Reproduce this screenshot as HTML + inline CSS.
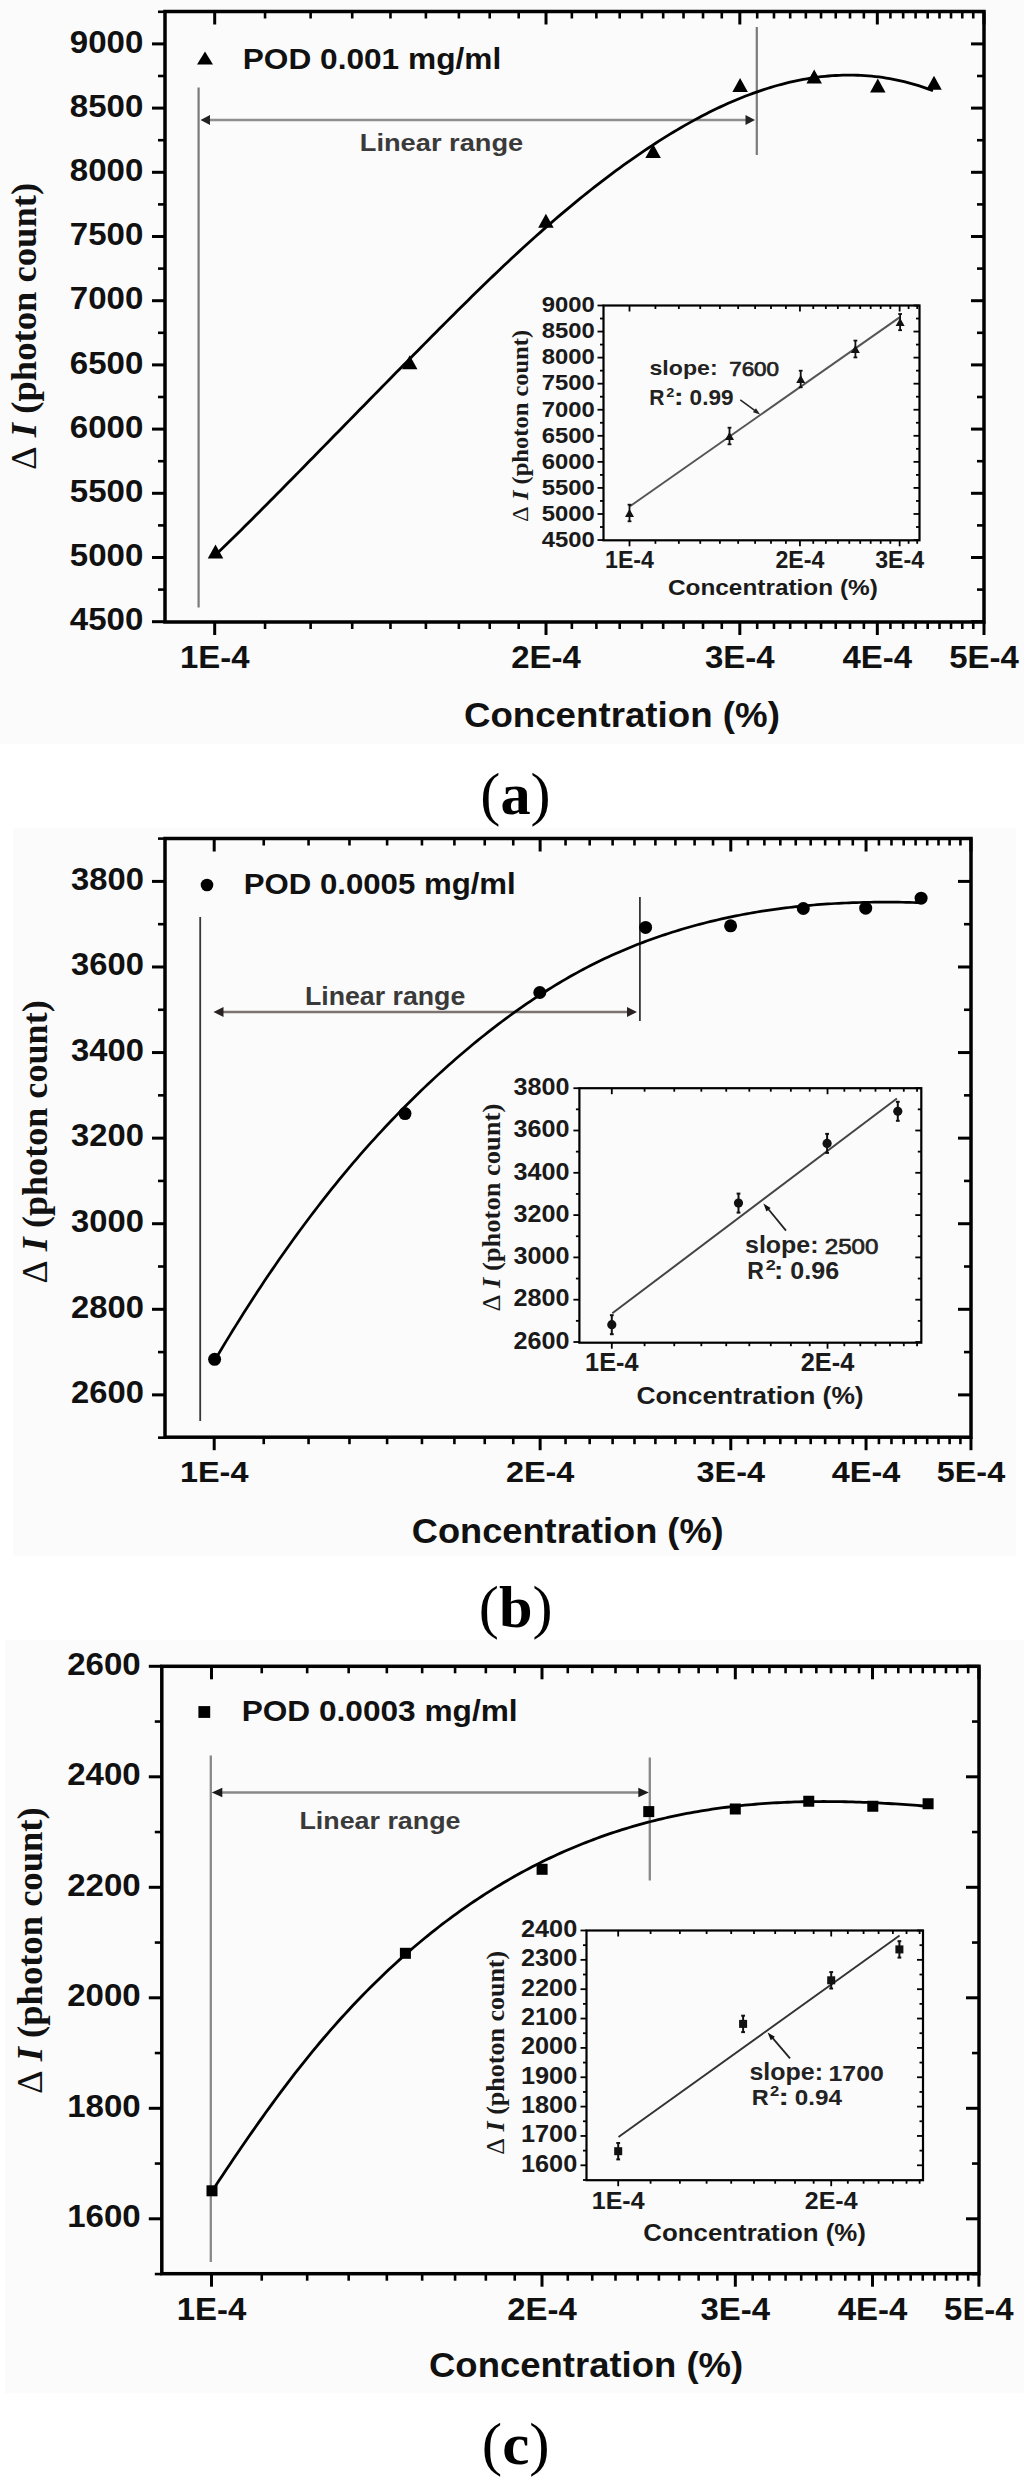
<!DOCTYPE html><html><head><meta charset="utf-8"><style>
html,body{margin:0;padding:0;background:#fff;width:1024px;height:2487px;overflow:hidden}
text{font-kerning:none}
</style></head><body>
<div><svg width="1024" height="2487" viewBox="0 0 1024 2487" style="display:block">
<rect x="0" y="0" width="1024" height="2487" fill="#ffffff"/>
<rect x="0" y="0" width="1024" height="744" fill="#fbfbfb"/>
<line x1="214.70" y1="622.00" x2="214.70" y2="635.00" stroke="#000" stroke-width="3" stroke-linecap="butt"/>
<line x1="214.70" y1="11.50" x2="214.70" y2="24.50" stroke="#000" stroke-width="3" stroke-linecap="butt"/>
<line x1="546.01" y1="622.00" x2="546.01" y2="635.00" stroke="#000" stroke-width="3" stroke-linecap="butt"/>
<line x1="546.01" y1="11.50" x2="546.01" y2="24.50" stroke="#000" stroke-width="3" stroke-linecap="butt"/>
<line x1="739.82" y1="622.00" x2="739.82" y2="635.00" stroke="#000" stroke-width="3" stroke-linecap="butt"/>
<line x1="739.82" y1="11.50" x2="739.82" y2="24.50" stroke="#000" stroke-width="3" stroke-linecap="butt"/>
<line x1="877.33" y1="622.00" x2="877.33" y2="635.00" stroke="#000" stroke-width="3" stroke-linecap="butt"/>
<line x1="877.33" y1="11.50" x2="877.33" y2="24.50" stroke="#000" stroke-width="3" stroke-linecap="butt"/>
<line x1="983.99" y1="622.00" x2="983.99" y2="635.00" stroke="#000" stroke-width="3" stroke-linecap="butt"/>
<line x1="983.99" y1="11.50" x2="983.99" y2="24.50" stroke="#000" stroke-width="3" stroke-linecap="butt"/>
<line x1="265.06" y1="622.00" x2="265.06" y2="629.00" stroke="#000" stroke-width="2.6" stroke-linecap="butt"/>
<line x1="265.06" y1="11.50" x2="265.06" y2="18.50" stroke="#000" stroke-width="2.6" stroke-linecap="butt"/>
<line x1="310.62" y1="622.00" x2="310.62" y2="629.00" stroke="#000" stroke-width="2.6" stroke-linecap="butt"/>
<line x1="310.62" y1="11.50" x2="310.62" y2="18.50" stroke="#000" stroke-width="2.6" stroke-linecap="butt"/>
<line x1="352.21" y1="622.00" x2="352.21" y2="629.00" stroke="#000" stroke-width="2.6" stroke-linecap="butt"/>
<line x1="352.21" y1="11.50" x2="352.21" y2="18.50" stroke="#000" stroke-width="2.6" stroke-linecap="butt"/>
<line x1="390.47" y1="622.00" x2="390.47" y2="629.00" stroke="#000" stroke-width="2.6" stroke-linecap="butt"/>
<line x1="390.47" y1="11.50" x2="390.47" y2="18.50" stroke="#000" stroke-width="2.6" stroke-linecap="butt"/>
<line x1="425.89" y1="622.00" x2="425.89" y2="629.00" stroke="#000" stroke-width="2.6" stroke-linecap="butt"/>
<line x1="425.89" y1="11.50" x2="425.89" y2="18.50" stroke="#000" stroke-width="2.6" stroke-linecap="butt"/>
<line x1="458.87" y1="622.00" x2="458.87" y2="629.00" stroke="#000" stroke-width="2.6" stroke-linecap="butt"/>
<line x1="458.87" y1="11.50" x2="458.87" y2="18.50" stroke="#000" stroke-width="2.6" stroke-linecap="butt"/>
<line x1="489.72" y1="622.00" x2="489.72" y2="629.00" stroke="#000" stroke-width="2.6" stroke-linecap="butt"/>
<line x1="489.72" y1="11.50" x2="489.72" y2="18.50" stroke="#000" stroke-width="2.6" stroke-linecap="butt"/>
<line x1="518.69" y1="622.00" x2="518.69" y2="629.00" stroke="#000" stroke-width="2.6" stroke-linecap="butt"/>
<line x1="518.69" y1="11.50" x2="518.69" y2="18.50" stroke="#000" stroke-width="2.6" stroke-linecap="butt"/>
<line x1="571.86" y1="622.00" x2="571.86" y2="629.00" stroke="#000" stroke-width="2.6" stroke-linecap="butt"/>
<line x1="571.86" y1="11.50" x2="571.86" y2="18.50" stroke="#000" stroke-width="2.6" stroke-linecap="butt"/>
<line x1="596.37" y1="622.00" x2="596.37" y2="629.00" stroke="#000" stroke-width="2.6" stroke-linecap="butt"/>
<line x1="596.37" y1="11.50" x2="596.37" y2="18.50" stroke="#000" stroke-width="2.6" stroke-linecap="butt"/>
<line x1="619.70" y1="622.00" x2="619.70" y2="629.00" stroke="#000" stroke-width="2.6" stroke-linecap="butt"/>
<line x1="619.70" y1="11.50" x2="619.70" y2="18.50" stroke="#000" stroke-width="2.6" stroke-linecap="butt"/>
<line x1="641.93" y1="622.00" x2="641.93" y2="629.00" stroke="#000" stroke-width="2.6" stroke-linecap="butt"/>
<line x1="641.93" y1="11.50" x2="641.93" y2="18.50" stroke="#000" stroke-width="2.6" stroke-linecap="butt"/>
<line x1="663.18" y1="622.00" x2="663.18" y2="629.00" stroke="#000" stroke-width="2.6" stroke-linecap="butt"/>
<line x1="663.18" y1="11.50" x2="663.18" y2="18.50" stroke="#000" stroke-width="2.6" stroke-linecap="butt"/>
<line x1="683.52" y1="622.00" x2="683.52" y2="629.00" stroke="#000" stroke-width="2.6" stroke-linecap="butt"/>
<line x1="683.52" y1="11.50" x2="683.52" y2="18.50" stroke="#000" stroke-width="2.6" stroke-linecap="butt"/>
<line x1="703.03" y1="622.00" x2="703.03" y2="629.00" stroke="#000" stroke-width="2.6" stroke-linecap="butt"/>
<line x1="703.03" y1="11.50" x2="703.03" y2="18.50" stroke="#000" stroke-width="2.6" stroke-linecap="butt"/>
<line x1="721.78" y1="622.00" x2="721.78" y2="629.00" stroke="#000" stroke-width="2.6" stroke-linecap="butt"/>
<line x1="721.78" y1="11.50" x2="721.78" y2="18.50" stroke="#000" stroke-width="2.6" stroke-linecap="butt"/>
<line x1="757.20" y1="622.00" x2="757.20" y2="629.00" stroke="#000" stroke-width="2.6" stroke-linecap="butt"/>
<line x1="757.20" y1="11.50" x2="757.20" y2="18.50" stroke="#000" stroke-width="2.6" stroke-linecap="butt"/>
<line x1="773.98" y1="622.00" x2="773.98" y2="629.00" stroke="#000" stroke-width="2.6" stroke-linecap="butt"/>
<line x1="773.98" y1="11.50" x2="773.98" y2="18.50" stroke="#000" stroke-width="2.6" stroke-linecap="butt"/>
<line x1="790.18" y1="622.00" x2="790.18" y2="629.00" stroke="#000" stroke-width="2.6" stroke-linecap="butt"/>
<line x1="790.18" y1="11.50" x2="790.18" y2="18.50" stroke="#000" stroke-width="2.6" stroke-linecap="butt"/>
<line x1="805.85" y1="622.00" x2="805.85" y2="629.00" stroke="#000" stroke-width="2.6" stroke-linecap="butt"/>
<line x1="805.85" y1="11.50" x2="805.85" y2="18.50" stroke="#000" stroke-width="2.6" stroke-linecap="butt"/>
<line x1="821.03" y1="622.00" x2="821.03" y2="629.00" stroke="#000" stroke-width="2.6" stroke-linecap="butt"/>
<line x1="821.03" y1="11.50" x2="821.03" y2="18.50" stroke="#000" stroke-width="2.6" stroke-linecap="butt"/>
<line x1="835.74" y1="622.00" x2="835.74" y2="629.00" stroke="#000" stroke-width="2.6" stroke-linecap="butt"/>
<line x1="835.74" y1="11.50" x2="835.74" y2="18.50" stroke="#000" stroke-width="2.6" stroke-linecap="butt"/>
<line x1="850.01" y1="622.00" x2="850.01" y2="629.00" stroke="#000" stroke-width="2.6" stroke-linecap="butt"/>
<line x1="850.01" y1="11.50" x2="850.01" y2="18.50" stroke="#000" stroke-width="2.6" stroke-linecap="butt"/>
<line x1="863.86" y1="622.00" x2="863.86" y2="629.00" stroke="#000" stroke-width="2.6" stroke-linecap="butt"/>
<line x1="863.86" y1="11.50" x2="863.86" y2="18.50" stroke="#000" stroke-width="2.6" stroke-linecap="butt"/>
<line x1="890.42" y1="622.00" x2="890.42" y2="629.00" stroke="#000" stroke-width="2.6" stroke-linecap="butt"/>
<line x1="890.42" y1="11.50" x2="890.42" y2="18.50" stroke="#000" stroke-width="2.6" stroke-linecap="butt"/>
<line x1="903.17" y1="622.00" x2="903.17" y2="629.00" stroke="#000" stroke-width="2.6" stroke-linecap="butt"/>
<line x1="903.17" y1="11.50" x2="903.17" y2="18.50" stroke="#000" stroke-width="2.6" stroke-linecap="butt"/>
<line x1="915.59" y1="622.00" x2="915.59" y2="629.00" stroke="#000" stroke-width="2.6" stroke-linecap="butt"/>
<line x1="915.59" y1="11.50" x2="915.59" y2="18.50" stroke="#000" stroke-width="2.6" stroke-linecap="butt"/>
<line x1="927.69" y1="622.00" x2="927.69" y2="629.00" stroke="#000" stroke-width="2.6" stroke-linecap="butt"/>
<line x1="927.69" y1="11.50" x2="927.69" y2="18.50" stroke="#000" stroke-width="2.6" stroke-linecap="butt"/>
<line x1="939.49" y1="622.00" x2="939.49" y2="629.00" stroke="#000" stroke-width="2.6" stroke-linecap="butt"/>
<line x1="939.49" y1="11.50" x2="939.49" y2="18.50" stroke="#000" stroke-width="2.6" stroke-linecap="butt"/>
<line x1="951.01" y1="622.00" x2="951.01" y2="629.00" stroke="#000" stroke-width="2.6" stroke-linecap="butt"/>
<line x1="951.01" y1="11.50" x2="951.01" y2="18.50" stroke="#000" stroke-width="2.6" stroke-linecap="butt"/>
<line x1="962.26" y1="622.00" x2="962.26" y2="629.00" stroke="#000" stroke-width="2.6" stroke-linecap="butt"/>
<line x1="962.26" y1="11.50" x2="962.26" y2="18.50" stroke="#000" stroke-width="2.6" stroke-linecap="butt"/>
<line x1="973.24" y1="622.00" x2="973.24" y2="629.00" stroke="#000" stroke-width="2.6" stroke-linecap="butt"/>
<line x1="973.24" y1="11.50" x2="973.24" y2="18.50" stroke="#000" stroke-width="2.6" stroke-linecap="butt"/>
<line x1="152.00" y1="621.70" x2="165.00" y2="621.70" stroke="#000" stroke-width="3" stroke-linecap="butt"/>
<line x1="971.00" y1="621.70" x2="984.00" y2="621.70" stroke="#000" stroke-width="3" stroke-linecap="butt"/>
<line x1="158.00" y1="589.60" x2="165.00" y2="589.60" stroke="#000" stroke-width="2.6" stroke-linecap="butt"/>
<line x1="977.00" y1="589.60" x2="984.00" y2="589.60" stroke="#000" stroke-width="2.6" stroke-linecap="butt"/>
<line x1="152.00" y1="557.50" x2="165.00" y2="557.50" stroke="#000" stroke-width="3" stroke-linecap="butt"/>
<line x1="971.00" y1="557.50" x2="984.00" y2="557.50" stroke="#000" stroke-width="3" stroke-linecap="butt"/>
<line x1="158.00" y1="525.40" x2="165.00" y2="525.40" stroke="#000" stroke-width="2.6" stroke-linecap="butt"/>
<line x1="977.00" y1="525.40" x2="984.00" y2="525.40" stroke="#000" stroke-width="2.6" stroke-linecap="butt"/>
<line x1="152.00" y1="493.30" x2="165.00" y2="493.30" stroke="#000" stroke-width="3" stroke-linecap="butt"/>
<line x1="971.00" y1="493.30" x2="984.00" y2="493.30" stroke="#000" stroke-width="3" stroke-linecap="butt"/>
<line x1="158.00" y1="461.20" x2="165.00" y2="461.20" stroke="#000" stroke-width="2.6" stroke-linecap="butt"/>
<line x1="977.00" y1="461.20" x2="984.00" y2="461.20" stroke="#000" stroke-width="2.6" stroke-linecap="butt"/>
<line x1="152.00" y1="429.10" x2="165.00" y2="429.10" stroke="#000" stroke-width="3" stroke-linecap="butt"/>
<line x1="971.00" y1="429.10" x2="984.00" y2="429.10" stroke="#000" stroke-width="3" stroke-linecap="butt"/>
<line x1="158.00" y1="397.00" x2="165.00" y2="397.00" stroke="#000" stroke-width="2.6" stroke-linecap="butt"/>
<line x1="977.00" y1="397.00" x2="984.00" y2="397.00" stroke="#000" stroke-width="2.6" stroke-linecap="butt"/>
<line x1="152.00" y1="364.90" x2="165.00" y2="364.90" stroke="#000" stroke-width="3" stroke-linecap="butt"/>
<line x1="971.00" y1="364.90" x2="984.00" y2="364.90" stroke="#000" stroke-width="3" stroke-linecap="butt"/>
<line x1="158.00" y1="332.80" x2="165.00" y2="332.80" stroke="#000" stroke-width="2.6" stroke-linecap="butt"/>
<line x1="977.00" y1="332.80" x2="984.00" y2="332.80" stroke="#000" stroke-width="2.6" stroke-linecap="butt"/>
<line x1="152.00" y1="300.70" x2="165.00" y2="300.70" stroke="#000" stroke-width="3" stroke-linecap="butt"/>
<line x1="971.00" y1="300.70" x2="984.00" y2="300.70" stroke="#000" stroke-width="3" stroke-linecap="butt"/>
<line x1="158.00" y1="268.60" x2="165.00" y2="268.60" stroke="#000" stroke-width="2.6" stroke-linecap="butt"/>
<line x1="977.00" y1="268.60" x2="984.00" y2="268.60" stroke="#000" stroke-width="2.6" stroke-linecap="butt"/>
<line x1="152.00" y1="236.50" x2="165.00" y2="236.50" stroke="#000" stroke-width="3" stroke-linecap="butt"/>
<line x1="971.00" y1="236.50" x2="984.00" y2="236.50" stroke="#000" stroke-width="3" stroke-linecap="butt"/>
<line x1="158.00" y1="204.40" x2="165.00" y2="204.40" stroke="#000" stroke-width="2.6" stroke-linecap="butt"/>
<line x1="977.00" y1="204.40" x2="984.00" y2="204.40" stroke="#000" stroke-width="2.6" stroke-linecap="butt"/>
<line x1="152.00" y1="172.30" x2="165.00" y2="172.30" stroke="#000" stroke-width="3" stroke-linecap="butt"/>
<line x1="971.00" y1="172.30" x2="984.00" y2="172.30" stroke="#000" stroke-width="3" stroke-linecap="butt"/>
<line x1="158.00" y1="140.20" x2="165.00" y2="140.20" stroke="#000" stroke-width="2.6" stroke-linecap="butt"/>
<line x1="977.00" y1="140.20" x2="984.00" y2="140.20" stroke="#000" stroke-width="2.6" stroke-linecap="butt"/>
<line x1="152.00" y1="108.10" x2="165.00" y2="108.10" stroke="#000" stroke-width="3" stroke-linecap="butt"/>
<line x1="971.00" y1="108.10" x2="984.00" y2="108.10" stroke="#000" stroke-width="3" stroke-linecap="butt"/>
<line x1="158.00" y1="76.00" x2="165.00" y2="76.00" stroke="#000" stroke-width="2.6" stroke-linecap="butt"/>
<line x1="977.00" y1="76.00" x2="984.00" y2="76.00" stroke="#000" stroke-width="2.6" stroke-linecap="butt"/>
<line x1="152.00" y1="43.90" x2="165.00" y2="43.90" stroke="#000" stroke-width="3" stroke-linecap="butt"/>
<line x1="971.00" y1="43.90" x2="984.00" y2="43.90" stroke="#000" stroke-width="3" stroke-linecap="butt"/>
<line x1="158.00" y1="11.80" x2="165.00" y2="11.80" stroke="#000" stroke-width="2.6" stroke-linecap="butt"/>
<line x1="977.00" y1="11.80" x2="984.00" y2="11.80" stroke="#000" stroke-width="2.6" stroke-linecap="butt"/>
<rect x="165.00" y="11.50" width="819.00" height="610.50" fill="none" stroke="#000" stroke-width="3.5"/>
<text transform="translate(69.84,630.43) scale(1.0800,1)" font-size="30.60" fill="#111"><tspan font-family="Liberation Sans" font-weight="bold" font-style="normal">4500</tspan></text>
<text transform="translate(69.84,566.23) scale(1.0800,1)" font-size="30.60" fill="#111"><tspan font-family="Liberation Sans" font-weight="bold" font-style="normal">5000</tspan></text>
<text transform="translate(69.84,502.03) scale(1.0800,1)" font-size="30.60" fill="#111"><tspan font-family="Liberation Sans" font-weight="bold" font-style="normal">5500</tspan></text>
<text transform="translate(69.84,437.83) scale(1.0800,1)" font-size="30.60" fill="#111"><tspan font-family="Liberation Sans" font-weight="bold" font-style="normal">6000</tspan></text>
<text transform="translate(69.84,373.63) scale(1.0800,1)" font-size="30.60" fill="#111"><tspan font-family="Liberation Sans" font-weight="bold" font-style="normal">6500</tspan></text>
<text transform="translate(69.84,309.43) scale(1.0800,1)" font-size="30.60" fill="#111"><tspan font-family="Liberation Sans" font-weight="bold" font-style="normal">7000</tspan></text>
<text transform="translate(69.84,245.23) scale(1.0800,1)" font-size="30.60" fill="#111"><tspan font-family="Liberation Sans" font-weight="bold" font-style="normal">7500</tspan></text>
<text transform="translate(69.84,181.03) scale(1.0800,1)" font-size="30.60" fill="#111"><tspan font-family="Liberation Sans" font-weight="bold" font-style="normal">8000</tspan></text>
<text transform="translate(69.84,116.83) scale(1.0800,1)" font-size="30.60" fill="#111"><tspan font-family="Liberation Sans" font-weight="bold" font-style="normal">8500</tspan></text>
<text transform="translate(69.84,52.63) scale(1.0800,1)" font-size="30.60" fill="#111"><tspan font-family="Liberation Sans" font-weight="bold" font-style="normal">9000</tspan></text>
<text transform="translate(179.91,667.80) scale(1.0800,1)" font-size="30.50" fill="#111" font-family="Liberation Sans" font-weight="bold">1E-4</text>
<text transform="translate(511.22,667.80) scale(1.0800,1)" font-size="30.50" fill="#111" font-family="Liberation Sans" font-weight="bold">2E-4</text>
<text transform="translate(705.03,667.80) scale(1.0800,1)" font-size="30.50" fill="#111" font-family="Liberation Sans" font-weight="bold">3E-4</text>
<text transform="translate(842.54,667.80) scale(1.0800,1)" font-size="30.50" fill="#111" font-family="Liberation Sans" font-weight="bold">4E-4</text>
<text transform="translate(949.20,667.80) scale(1.0800,1)" font-size="30.50" fill="#111" font-family="Liberation Sans" font-weight="bold">5E-4</text>
<text transform="translate(463.89,727.20) scale(1.0638,1)" font-size="34.50" fill="#111"><tspan font-family="Liberation Sans" font-weight="bold" font-style="normal">Concentration (%)</tspan></text>
<text transform="translate(27.30,326.50) rotate(-90) translate(-143.39,8.56) scale(1.0285,1)" font-size="35.60" fill="#111"><tspan font-family="Liberation Serif" font-weight="normal" font-style="normal">Δ </tspan><tspan font-family="Liberation Serif" font-weight="bold" font-style="italic">I</tspan><tspan font-family="Liberation Serif" font-weight="bold" font-style="normal"> (photon count)</tspan></text>
<path d="M197.00,64.50 L205.00,51.50 L213.00,64.50 Z" fill="#000"/>
<text transform="translate(242.68,69.20) scale(1.0951,1)" font-size="28.90" fill="#111"><tspan font-family="Liberation Sans" font-weight="bold" font-style="normal">POD 0.001 mg/ml</tspan></text>
<line x1="198.60" y1="87.50" x2="198.60" y2="607.50" stroke="#7a7a7a" stroke-width="2.2" stroke-linecap="butt"/>
<line x1="756.80" y1="27.00" x2="756.80" y2="155.00" stroke="#7a7a7a" stroke-width="2.2" stroke-linecap="butt"/>
<line x1="205.00" y1="119.90" x2="750.00" y2="119.90" stroke="#8e8e8e" stroke-width="2.5" stroke-linecap="butt"/>
<path d="M200.50,119.90 L210.00,114.90 L210.00,124.90 Z" fill="#222"/>
<path d="M755.00,119.90 L745.50,124.90 L745.50,114.90 Z" fill="#222"/>
<text transform="translate(359.78,150.60) scale(1.1498,1)" font-size="23.70" fill="#3a3a3a"><tspan font-family="Liberation Sans" font-weight="bold" font-style="normal">Linear range</tspan></text>
<path d="M216.00,554.54 L219.60,551.06 L223.21,547.57 L226.81,544.07 L230.41,540.55 L234.02,537.01 L237.62,533.47 L241.22,529.91 L244.82,526.34 L248.43,522.76 L252.03,519.17 L255.63,515.57 L259.24,511.97 L262.84,508.35 L266.44,504.73 L270.05,501.10 L273.65,497.46 L277.25,493.82 L280.85,490.17 L284.46,486.51 L288.06,482.85 L291.66,479.19 L295.27,475.53 L298.87,471.86 L302.47,468.19 L306.08,464.52 L309.68,460.85 L313.28,457.17 L316.88,453.50 L320.49,449.82 L324.09,446.14 L327.69,442.46 L331.30,438.78 L334.90,435.10 L338.50,431.42 L342.11,427.74 L345.71,424.06 L349.31,420.38 L352.91,416.70 L356.52,413.02 L360.12,409.34 L363.72,405.66 L367.33,401.98 L370.93,398.31 L374.53,394.63 L378.14,390.96 L381.74,387.28 L385.34,383.61 L388.94,379.94 L392.55,376.27 L396.15,372.60 L399.75,368.94 L403.36,365.28 L406.96,361.62 L410.56,357.97 L414.17,354.31 L417.77,350.67 L421.37,347.02 L424.97,343.38 L428.58,339.74 L432.18,336.11 L435.78,332.48 L439.39,328.86 L442.99,325.24 L446.59,321.63 L450.20,318.03 L453.80,314.43 L457.40,310.85 L461.01,307.27 L464.61,303.70 L468.21,300.15 L471.81,296.60 L475.42,293.07 L479.02,289.55 L482.62,286.04 L486.23,282.55 L489.83,279.08 L493.43,275.62 L497.04,272.17 L500.64,268.75 L504.24,265.34 L507.84,261.95 L511.45,258.58 L515.05,255.23 L518.65,251.90 L522.26,248.59 L525.86,245.30 L529.46,242.03 L533.07,238.78 L536.67,235.56 L540.27,232.35 L543.87,229.17 L547.48,226.01 L551.08,222.88 L554.68,219.77 L558.29,216.68 L561.89,213.62 L565.49,210.58 L569.10,207.57 L572.70,204.58 L576.30,201.62 L579.90,198.68 L583.51,195.77 L587.11,192.88 L590.71,190.02 L594.32,187.19 L597.92,184.38 L601.52,181.60 L605.13,178.84 L608.73,176.11 L612.33,173.41 L615.93,170.74 L619.54,168.09 L623.14,165.47 L626.74,162.89 L630.35,160.32 L633.95,157.79 L637.55,155.29 L641.16,152.82 L644.76,150.38 L648.36,147.97 L651.96,145.59 L655.57,143.24 L659.17,140.93 L662.77,138.65 L666.38,136.40 L669.98,134.18 L673.58,132.00 L677.19,129.85 L680.79,127.74 L684.39,125.66 L687.99,123.61 L691.60,121.61 L695.20,119.63 L698.80,117.70 L702.41,115.80 L706.01,113.94 L709.61,112.12 L713.22,110.33 L716.82,108.59 L720.42,106.88 L724.03,105.22 L727.63,103.59 L731.23,102.00 L734.83,100.46 L738.44,98.96 L742.04,97.49 L745.64,96.07 L749.25,94.70 L752.85,93.36 L756.45,92.07 L760.06,90.82 L763.66,89.62 L767.26,88.46 L770.86,87.35 L774.47,86.28 L778.07,85.26 L781.67,84.28 L785.28,83.35 L788.88,82.47 L792.48,81.64 L796.09,80.85 L799.69,80.11 L803.29,79.42 L806.89,78.78 L810.50,78.19 L814.10,77.65 L817.70,77.16 L821.31,76.72 L824.91,76.34 L828.51,76.00 L832.12,75.72 L835.72,75.49 L839.32,75.31 L842.92,75.19 L846.53,75.12 L850.13,75.10 L853.73,75.14 L857.34,75.23 L860.94,75.38 L864.54,75.59 L868.15,75.85 L871.75,76.17 L875.35,76.54 L878.95,76.98 L882.56,77.47 L886.16,78.02 L889.76,78.63 L893.37,79.30 L896.97,80.02 L900.57,80.81 L904.18,81.66 L907.78,82.57 L911.38,83.54 L914.98,84.57 L918.59,85.67 L922.19,86.83 L925.79,88.05 L929.40,89.33 L933.00,90.68" fill="none" stroke="#000" stroke-width="2.8" stroke-linejoin="round" stroke-linecap="butt"/>
<path d="M207.75,558.40 L215.50,544.40 L223.25,558.40 Z" fill="#000"/>
<path d="M401.95,369.30 L409.70,355.30 L417.45,369.30 Z" fill="#000"/>
<path d="M538.15,227.80 L545.90,213.80 L553.65,227.80 Z" fill="#000"/>
<path d="M645.35,158.10 L653.10,144.10 L660.85,158.10 Z" fill="#000"/>
<path d="M732.35,92.00 L740.10,78.00 L747.85,92.00 Z" fill="#000"/>
<path d="M806.45,83.60 L814.20,69.60 L821.95,83.60 Z" fill="#000"/>
<path d="M870.05,92.40 L877.80,78.40 L885.55,92.40 Z" fill="#000"/>
<path d="M926.25,89.80 L934.00,75.80 L941.75,89.80 Z" fill="#000"/>
<line x1="629.50" y1="540.30" x2="629.50" y2="546.30" stroke="#000" stroke-width="1.8" stroke-linecap="butt"/>
<line x1="629.50" y1="305.50" x2="629.50" y2="311.50" stroke="#000" stroke-width="1.8" stroke-linecap="butt"/>
<line x1="655.41" y1="540.30" x2="655.41" y2="543.80" stroke="#000" stroke-width="1.8" stroke-linecap="butt"/>
<line x1="655.41" y1="305.50" x2="655.41" y2="309.00" stroke="#000" stroke-width="1.8" stroke-linecap="butt"/>
<line x1="678.84" y1="540.30" x2="678.84" y2="543.80" stroke="#000" stroke-width="1.8" stroke-linecap="butt"/>
<line x1="678.84" y1="305.50" x2="678.84" y2="309.00" stroke="#000" stroke-width="1.8" stroke-linecap="butt"/>
<line x1="700.24" y1="540.30" x2="700.24" y2="543.80" stroke="#000" stroke-width="1.8" stroke-linecap="butt"/>
<line x1="700.24" y1="305.50" x2="700.24" y2="309.00" stroke="#000" stroke-width="1.8" stroke-linecap="butt"/>
<line x1="719.92" y1="540.30" x2="719.92" y2="543.80" stroke="#000" stroke-width="1.8" stroke-linecap="butt"/>
<line x1="719.92" y1="305.50" x2="719.92" y2="309.00" stroke="#000" stroke-width="1.8" stroke-linecap="butt"/>
<line x1="738.15" y1="540.30" x2="738.15" y2="543.80" stroke="#000" stroke-width="1.8" stroke-linecap="butt"/>
<line x1="738.15" y1="305.50" x2="738.15" y2="309.00" stroke="#000" stroke-width="1.8" stroke-linecap="butt"/>
<line x1="755.11" y1="540.30" x2="755.11" y2="543.80" stroke="#000" stroke-width="1.8" stroke-linecap="butt"/>
<line x1="755.11" y1="305.50" x2="755.11" y2="309.00" stroke="#000" stroke-width="1.8" stroke-linecap="butt"/>
<line x1="770.98" y1="540.30" x2="770.98" y2="543.80" stroke="#000" stroke-width="1.8" stroke-linecap="butt"/>
<line x1="770.98" y1="305.50" x2="770.98" y2="309.00" stroke="#000" stroke-width="1.8" stroke-linecap="butt"/>
<line x1="785.89" y1="540.30" x2="785.89" y2="543.80" stroke="#000" stroke-width="1.8" stroke-linecap="butt"/>
<line x1="785.89" y1="305.50" x2="785.89" y2="309.00" stroke="#000" stroke-width="1.8" stroke-linecap="butt"/>
<line x1="799.94" y1="540.30" x2="799.94" y2="546.30" stroke="#000" stroke-width="1.8" stroke-linecap="butt"/>
<line x1="799.94" y1="305.50" x2="799.94" y2="311.50" stroke="#000" stroke-width="1.8" stroke-linecap="butt"/>
<line x1="813.24" y1="540.30" x2="813.24" y2="543.80" stroke="#000" stroke-width="1.8" stroke-linecap="butt"/>
<line x1="813.24" y1="305.50" x2="813.24" y2="309.00" stroke="#000" stroke-width="1.8" stroke-linecap="butt"/>
<line x1="825.85" y1="540.30" x2="825.85" y2="543.80" stroke="#000" stroke-width="1.8" stroke-linecap="butt"/>
<line x1="825.85" y1="305.50" x2="825.85" y2="309.00" stroke="#000" stroke-width="1.8" stroke-linecap="butt"/>
<line x1="837.85" y1="540.30" x2="837.85" y2="543.80" stroke="#000" stroke-width="1.8" stroke-linecap="butt"/>
<line x1="837.85" y1="305.50" x2="837.85" y2="309.00" stroke="#000" stroke-width="1.8" stroke-linecap="butt"/>
<line x1="849.29" y1="540.30" x2="849.29" y2="543.80" stroke="#000" stroke-width="1.8" stroke-linecap="butt"/>
<line x1="849.29" y1="305.50" x2="849.29" y2="309.00" stroke="#000" stroke-width="1.8" stroke-linecap="butt"/>
<line x1="860.22" y1="540.30" x2="860.22" y2="543.80" stroke="#000" stroke-width="1.8" stroke-linecap="butt"/>
<line x1="860.22" y1="305.50" x2="860.22" y2="309.00" stroke="#000" stroke-width="1.8" stroke-linecap="butt"/>
<line x1="870.68" y1="540.30" x2="870.68" y2="543.80" stroke="#000" stroke-width="1.8" stroke-linecap="butt"/>
<line x1="870.68" y1="305.50" x2="870.68" y2="309.00" stroke="#000" stroke-width="1.8" stroke-linecap="butt"/>
<line x1="880.72" y1="540.30" x2="880.72" y2="543.80" stroke="#000" stroke-width="1.8" stroke-linecap="butt"/>
<line x1="880.72" y1="305.50" x2="880.72" y2="309.00" stroke="#000" stroke-width="1.8" stroke-linecap="butt"/>
<line x1="890.37" y1="540.30" x2="890.37" y2="543.80" stroke="#000" stroke-width="1.8" stroke-linecap="butt"/>
<line x1="890.37" y1="305.50" x2="890.37" y2="309.00" stroke="#000" stroke-width="1.8" stroke-linecap="butt"/>
<line x1="899.65" y1="540.30" x2="899.65" y2="546.30" stroke="#000" stroke-width="1.8" stroke-linecap="butt"/>
<line x1="899.65" y1="305.50" x2="899.65" y2="311.50" stroke="#000" stroke-width="1.8" stroke-linecap="butt"/>
<line x1="908.59" y1="540.30" x2="908.59" y2="543.80" stroke="#000" stroke-width="1.8" stroke-linecap="butt"/>
<line x1="908.59" y1="305.50" x2="908.59" y2="309.00" stroke="#000" stroke-width="1.8" stroke-linecap="butt"/>
<line x1="917.22" y1="540.30" x2="917.22" y2="543.80" stroke="#000" stroke-width="1.8" stroke-linecap="butt"/>
<line x1="917.22" y1="305.50" x2="917.22" y2="309.00" stroke="#000" stroke-width="1.8" stroke-linecap="butt"/>
<line x1="597.50" y1="540.04" x2="603.50" y2="540.04" stroke="#000" stroke-width="1.8" stroke-linecap="butt"/>
<line x1="913.50" y1="540.04" x2="919.50" y2="540.04" stroke="#000" stroke-width="1.8" stroke-linecap="butt"/>
<line x1="600.00" y1="527.01" x2="603.50" y2="527.01" stroke="#000" stroke-width="1.8" stroke-linecap="butt"/>
<line x1="916.00" y1="527.01" x2="919.50" y2="527.01" stroke="#000" stroke-width="1.8" stroke-linecap="butt"/>
<line x1="597.50" y1="513.98" x2="603.50" y2="513.98" stroke="#000" stroke-width="1.8" stroke-linecap="butt"/>
<line x1="913.50" y1="513.98" x2="919.50" y2="513.98" stroke="#000" stroke-width="1.8" stroke-linecap="butt"/>
<line x1="600.00" y1="500.95" x2="603.50" y2="500.95" stroke="#000" stroke-width="1.8" stroke-linecap="butt"/>
<line x1="916.00" y1="500.95" x2="919.50" y2="500.95" stroke="#000" stroke-width="1.8" stroke-linecap="butt"/>
<line x1="597.50" y1="487.92" x2="603.50" y2="487.92" stroke="#000" stroke-width="1.8" stroke-linecap="butt"/>
<line x1="913.50" y1="487.92" x2="919.50" y2="487.92" stroke="#000" stroke-width="1.8" stroke-linecap="butt"/>
<line x1="600.00" y1="474.89" x2="603.50" y2="474.89" stroke="#000" stroke-width="1.8" stroke-linecap="butt"/>
<line x1="916.00" y1="474.89" x2="919.50" y2="474.89" stroke="#000" stroke-width="1.8" stroke-linecap="butt"/>
<line x1="597.50" y1="461.86" x2="603.50" y2="461.86" stroke="#000" stroke-width="1.8" stroke-linecap="butt"/>
<line x1="913.50" y1="461.86" x2="919.50" y2="461.86" stroke="#000" stroke-width="1.8" stroke-linecap="butt"/>
<line x1="600.00" y1="448.83" x2="603.50" y2="448.83" stroke="#000" stroke-width="1.8" stroke-linecap="butt"/>
<line x1="916.00" y1="448.83" x2="919.50" y2="448.83" stroke="#000" stroke-width="1.8" stroke-linecap="butt"/>
<line x1="597.50" y1="435.80" x2="603.50" y2="435.80" stroke="#000" stroke-width="1.8" stroke-linecap="butt"/>
<line x1="913.50" y1="435.80" x2="919.50" y2="435.80" stroke="#000" stroke-width="1.8" stroke-linecap="butt"/>
<line x1="600.00" y1="422.77" x2="603.50" y2="422.77" stroke="#000" stroke-width="1.8" stroke-linecap="butt"/>
<line x1="916.00" y1="422.77" x2="919.50" y2="422.77" stroke="#000" stroke-width="1.8" stroke-linecap="butt"/>
<line x1="597.50" y1="409.74" x2="603.50" y2="409.74" stroke="#000" stroke-width="1.8" stroke-linecap="butt"/>
<line x1="913.50" y1="409.74" x2="919.50" y2="409.74" stroke="#000" stroke-width="1.8" stroke-linecap="butt"/>
<line x1="600.00" y1="396.71" x2="603.50" y2="396.71" stroke="#000" stroke-width="1.8" stroke-linecap="butt"/>
<line x1="916.00" y1="396.71" x2="919.50" y2="396.71" stroke="#000" stroke-width="1.8" stroke-linecap="butt"/>
<line x1="597.50" y1="383.68" x2="603.50" y2="383.68" stroke="#000" stroke-width="1.8" stroke-linecap="butt"/>
<line x1="913.50" y1="383.68" x2="919.50" y2="383.68" stroke="#000" stroke-width="1.8" stroke-linecap="butt"/>
<line x1="600.00" y1="370.65" x2="603.50" y2="370.65" stroke="#000" stroke-width="1.8" stroke-linecap="butt"/>
<line x1="916.00" y1="370.65" x2="919.50" y2="370.65" stroke="#000" stroke-width="1.8" stroke-linecap="butt"/>
<line x1="597.50" y1="357.62" x2="603.50" y2="357.62" stroke="#000" stroke-width="1.8" stroke-linecap="butt"/>
<line x1="913.50" y1="357.62" x2="919.50" y2="357.62" stroke="#000" stroke-width="1.8" stroke-linecap="butt"/>
<line x1="600.00" y1="344.59" x2="603.50" y2="344.59" stroke="#000" stroke-width="1.8" stroke-linecap="butt"/>
<line x1="916.00" y1="344.59" x2="919.50" y2="344.59" stroke="#000" stroke-width="1.8" stroke-linecap="butt"/>
<line x1="597.50" y1="331.56" x2="603.50" y2="331.56" stroke="#000" stroke-width="1.8" stroke-linecap="butt"/>
<line x1="913.50" y1="331.56" x2="919.50" y2="331.56" stroke="#000" stroke-width="1.8" stroke-linecap="butt"/>
<line x1="600.00" y1="318.53" x2="603.50" y2="318.53" stroke="#000" stroke-width="1.8" stroke-linecap="butt"/>
<line x1="916.00" y1="318.53" x2="919.50" y2="318.53" stroke="#000" stroke-width="1.8" stroke-linecap="butt"/>
<line x1="597.50" y1="305.50" x2="603.50" y2="305.50" stroke="#000" stroke-width="1.8" stroke-linecap="butt"/>
<line x1="913.50" y1="305.50" x2="919.50" y2="305.50" stroke="#000" stroke-width="1.8" stroke-linecap="butt"/>
<rect x="603.50" y="305.50" width="316.00" height="234.80" fill="none" stroke="#000" stroke-width="2.2"/>
<text transform="translate(541.70,546.81) scale(1.0700,1)" font-size="22.30" fill="#1a1a1a"><tspan font-family="Liberation Sans" font-weight="bold" font-style="normal">4500</tspan></text>
<text transform="translate(541.70,520.75) scale(1.0700,1)" font-size="22.30" fill="#1a1a1a"><tspan font-family="Liberation Sans" font-weight="bold" font-style="normal">5000</tspan></text>
<text transform="translate(541.70,494.69) scale(1.0700,1)" font-size="22.30" fill="#1a1a1a"><tspan font-family="Liberation Sans" font-weight="bold" font-style="normal">5500</tspan></text>
<text transform="translate(541.70,468.63) scale(1.0700,1)" font-size="22.30" fill="#1a1a1a"><tspan font-family="Liberation Sans" font-weight="bold" font-style="normal">6000</tspan></text>
<text transform="translate(541.70,442.57) scale(1.0700,1)" font-size="22.30" fill="#1a1a1a"><tspan font-family="Liberation Sans" font-weight="bold" font-style="normal">6500</tspan></text>
<text transform="translate(541.70,416.51) scale(1.0700,1)" font-size="22.30" fill="#1a1a1a"><tspan font-family="Liberation Sans" font-weight="bold" font-style="normal">7000</tspan></text>
<text transform="translate(541.70,390.45) scale(1.0700,1)" font-size="22.30" fill="#1a1a1a"><tspan font-family="Liberation Sans" font-weight="bold" font-style="normal">7500</tspan></text>
<text transform="translate(541.70,364.39) scale(1.0700,1)" font-size="22.30" fill="#1a1a1a"><tspan font-family="Liberation Sans" font-weight="bold" font-style="normal">8000</tspan></text>
<text transform="translate(541.70,338.33) scale(1.0700,1)" font-size="22.30" fill="#1a1a1a"><tspan font-family="Liberation Sans" font-weight="bold" font-style="normal">8500</tspan></text>
<text transform="translate(541.70,312.27) scale(1.0700,1)" font-size="22.30" fill="#1a1a1a"><tspan font-family="Liberation Sans" font-weight="bold" font-style="normal">9000</tspan></text>
<text transform="translate(605.02,568.20) scale(0.9500,1)" font-size="24.40" fill="#1a1a1a" font-family="Liberation Sans" font-weight="bold">1E-4</text>
<text transform="translate(775.46,568.20) scale(0.9500,1)" font-size="24.40" fill="#1a1a1a" font-family="Liberation Sans" font-weight="bold">2E-4</text>
<text transform="translate(875.16,568.20) scale(0.9500,1)" font-size="24.40" fill="#1a1a1a" font-family="Liberation Sans" font-weight="bold">3E-4</text>
<text transform="translate(667.90,595.40) scale(1.0792,1)" font-size="22.60" fill="#1a1a1a"><tspan font-family="Liberation Sans" font-weight="bold" font-style="normal">Concentration (%)</tspan></text>
<text transform="translate(521.80,426.00) rotate(-90) translate(-95.98,5.70) scale(1.0341,1)" font-size="23.70" fill="#1a1a1a"><tspan font-family="Liberation Serif" font-weight="normal" font-style="normal">Δ </tspan><tspan font-family="Liberation Serif" font-weight="bold" font-style="italic">I</tspan><tspan font-family="Liberation Serif" font-weight="bold" font-style="normal"> (photon count)</tspan></text>
<line x1="630.00" y1="506.20" x2="899.60" y2="317.40" stroke="#555" stroke-width="2" stroke-linecap="butt"/>
<line x1="629.50" y1="504.70" x2="629.50" y2="521.30" stroke="#111" stroke-width="1.8" stroke-linecap="butt"/>
<line x1="627.60" y1="504.70" x2="631.40" y2="504.70" stroke="#111" stroke-width="1.8" stroke-linecap="butt"/>
<line x1="627.60" y1="521.30" x2="631.40" y2="521.30" stroke="#111" stroke-width="1.8" stroke-linecap="butt"/>
<path d="M625.00,517.00 L629.50,509.00 L634.00,517.00 Z" fill="#111"/>
<line x1="729.50" y1="427.70" x2="729.50" y2="444.30" stroke="#111" stroke-width="1.8" stroke-linecap="butt"/>
<line x1="727.60" y1="427.70" x2="731.40" y2="427.70" stroke="#111" stroke-width="1.8" stroke-linecap="butt"/>
<line x1="727.60" y1="444.30" x2="731.40" y2="444.30" stroke="#111" stroke-width="1.8" stroke-linecap="butt"/>
<path d="M725.00,440.00 L729.50,432.00 L734.00,440.00 Z" fill="#111"/>
<line x1="800.70" y1="370.70" x2="800.70" y2="387.30" stroke="#111" stroke-width="1.8" stroke-linecap="butt"/>
<line x1="798.80" y1="370.70" x2="802.60" y2="370.70" stroke="#111" stroke-width="1.8" stroke-linecap="butt"/>
<line x1="798.80" y1="387.30" x2="802.60" y2="387.30" stroke="#111" stroke-width="1.8" stroke-linecap="butt"/>
<path d="M796.20,383.00 L800.70,375.00 L805.20,383.00 Z" fill="#111"/>
<line x1="855.40" y1="340.60" x2="855.40" y2="357.40" stroke="#111" stroke-width="1.8" stroke-linecap="butt"/>
<line x1="853.50" y1="340.60" x2="857.30" y2="340.60" stroke="#111" stroke-width="1.8" stroke-linecap="butt"/>
<line x1="853.50" y1="357.40" x2="857.30" y2="357.40" stroke="#111" stroke-width="1.8" stroke-linecap="butt"/>
<path d="M850.90,353.00 L855.40,345.00 L859.90,353.00 Z" fill="#111"/>
<line x1="900.10" y1="314.00" x2="900.10" y2="330.20" stroke="#111" stroke-width="1.8" stroke-linecap="butt"/>
<line x1="898.20" y1="314.00" x2="902.00" y2="314.00" stroke="#111" stroke-width="1.8" stroke-linecap="butt"/>
<line x1="898.20" y1="330.20" x2="902.00" y2="330.20" stroke="#111" stroke-width="1.8" stroke-linecap="butt"/>
<path d="M895.60,326.10 L900.10,318.10 L904.60,326.10 Z" fill="#111"/>
<text transform="translate(649.49,374.90) scale(1.1569,1)" font-size="20.00" fill="#222"><tspan font-family="Liberation Sans" font-weight="bold" font-style="normal">slope:</tspan></text>
<text stroke="#222" stroke-width="0.7" transform="translate(729.15,376.20) scale(1.1451,1)" font-size="19.60" fill="#222"><tspan font-family="Liberation Sans" font-weight="normal" font-style="normal">7600</tspan></text>
<text transform="translate(649.19,405.30) scale(0.9493,1)" font-size="22.24" fill="#222"><tspan font-family="Liberation Sans" font-weight="bold" font-style="normal">R</tspan></text>
<text transform="translate(666.30,396.70) scale(1.1407,1)" font-size="12.75" fill="#222"><tspan font-family="Liberation Sans" font-weight="bold" font-style="normal">2</tspan></text>
<text transform="translate(673.63,405.30) scale(1.2779,1)" font-size="23.37" fill="#222"><tspan font-family="Liberation Sans" font-weight="bold" font-style="normal">:</tspan></text>
<text transform="translate(689.61,405.48) scale(1.0179,1)" font-size="22.17" fill="#222"><tspan font-family="Liberation Sans" font-weight="bold" font-style="normal">0.99</tspan></text>
<line x1="740.30" y1="399.80" x2="755.00" y2="410.60" stroke="#222" stroke-width="1.5" stroke-linecap="butt"/>
<path d="M760.10,414.40 L752.98,412.26 L755.95,408.23 Z" fill="#222"/>
<rect x="13" y="828" width="1003" height="728" fill="#fbfbfb"/>
<line x1="214.20" y1="1437.20" x2="214.20" y2="1450.20" stroke="#000" stroke-width="3" stroke-linecap="butt"/>
<line x1="214.20" y1="838.50" x2="214.20" y2="851.50" stroke="#000" stroke-width="3" stroke-linecap="butt"/>
<line x1="540.13" y1="1437.20" x2="540.13" y2="1450.20" stroke="#000" stroke-width="3" stroke-linecap="butt"/>
<line x1="540.13" y1="838.50" x2="540.13" y2="851.50" stroke="#000" stroke-width="3" stroke-linecap="butt"/>
<line x1="730.78" y1="1437.20" x2="730.78" y2="1450.20" stroke="#000" stroke-width="3" stroke-linecap="butt"/>
<line x1="730.78" y1="838.50" x2="730.78" y2="851.50" stroke="#000" stroke-width="3" stroke-linecap="butt"/>
<line x1="866.05" y1="1437.20" x2="866.05" y2="1450.20" stroke="#000" stroke-width="3" stroke-linecap="butt"/>
<line x1="866.05" y1="838.50" x2="866.05" y2="851.50" stroke="#000" stroke-width="3" stroke-linecap="butt"/>
<line x1="970.97" y1="1437.20" x2="970.97" y2="1450.20" stroke="#000" stroke-width="3" stroke-linecap="butt"/>
<line x1="970.97" y1="838.50" x2="970.97" y2="851.50" stroke="#000" stroke-width="3" stroke-linecap="butt"/>
<line x1="263.74" y1="1437.20" x2="263.74" y2="1444.20" stroke="#000" stroke-width="2.6" stroke-linecap="butt"/>
<line x1="263.74" y1="838.50" x2="263.74" y2="845.50" stroke="#000" stroke-width="2.6" stroke-linecap="butt"/>
<line x1="308.56" y1="1437.20" x2="308.56" y2="1444.20" stroke="#000" stroke-width="2.6" stroke-linecap="butt"/>
<line x1="308.56" y1="838.50" x2="308.56" y2="845.50" stroke="#000" stroke-width="2.6" stroke-linecap="butt"/>
<line x1="349.47" y1="1437.20" x2="349.47" y2="1444.20" stroke="#000" stroke-width="2.6" stroke-linecap="butt"/>
<line x1="349.47" y1="838.50" x2="349.47" y2="845.50" stroke="#000" stroke-width="2.6" stroke-linecap="butt"/>
<line x1="387.11" y1="1437.20" x2="387.11" y2="1444.20" stroke="#000" stroke-width="2.6" stroke-linecap="butt"/>
<line x1="387.11" y1="838.50" x2="387.11" y2="845.50" stroke="#000" stroke-width="2.6" stroke-linecap="butt"/>
<line x1="421.95" y1="1437.20" x2="421.95" y2="1444.20" stroke="#000" stroke-width="2.6" stroke-linecap="butt"/>
<line x1="421.95" y1="838.50" x2="421.95" y2="845.50" stroke="#000" stroke-width="2.6" stroke-linecap="butt"/>
<line x1="454.40" y1="1437.20" x2="454.40" y2="1444.20" stroke="#000" stroke-width="2.6" stroke-linecap="butt"/>
<line x1="454.40" y1="838.50" x2="454.40" y2="845.50" stroke="#000" stroke-width="2.6" stroke-linecap="butt"/>
<line x1="484.74" y1="1437.20" x2="484.74" y2="1444.20" stroke="#000" stroke-width="2.6" stroke-linecap="butt"/>
<line x1="484.74" y1="838.50" x2="484.74" y2="845.50" stroke="#000" stroke-width="2.6" stroke-linecap="butt"/>
<line x1="513.25" y1="1437.20" x2="513.25" y2="1444.20" stroke="#000" stroke-width="2.6" stroke-linecap="butt"/>
<line x1="513.25" y1="838.50" x2="513.25" y2="845.50" stroke="#000" stroke-width="2.6" stroke-linecap="butt"/>
<line x1="565.55" y1="1437.20" x2="565.55" y2="1444.20" stroke="#000" stroke-width="2.6" stroke-linecap="butt"/>
<line x1="565.55" y1="838.50" x2="565.55" y2="845.50" stroke="#000" stroke-width="2.6" stroke-linecap="butt"/>
<line x1="589.67" y1="1437.20" x2="589.67" y2="1444.20" stroke="#000" stroke-width="2.6" stroke-linecap="butt"/>
<line x1="589.67" y1="838.50" x2="589.67" y2="845.50" stroke="#000" stroke-width="2.6" stroke-linecap="butt"/>
<line x1="612.61" y1="1437.20" x2="612.61" y2="1444.20" stroke="#000" stroke-width="2.6" stroke-linecap="butt"/>
<line x1="612.61" y1="838.50" x2="612.61" y2="845.50" stroke="#000" stroke-width="2.6" stroke-linecap="butt"/>
<line x1="634.48" y1="1437.20" x2="634.48" y2="1444.20" stroke="#000" stroke-width="2.6" stroke-linecap="butt"/>
<line x1="634.48" y1="838.50" x2="634.48" y2="845.50" stroke="#000" stroke-width="2.6" stroke-linecap="butt"/>
<line x1="655.38" y1="1437.20" x2="655.38" y2="1444.20" stroke="#000" stroke-width="2.6" stroke-linecap="butt"/>
<line x1="655.38" y1="838.50" x2="655.38" y2="845.50" stroke="#000" stroke-width="2.6" stroke-linecap="butt"/>
<line x1="675.40" y1="1437.20" x2="675.40" y2="1444.20" stroke="#000" stroke-width="2.6" stroke-linecap="butt"/>
<line x1="675.40" y1="838.50" x2="675.40" y2="845.50" stroke="#000" stroke-width="2.6" stroke-linecap="butt"/>
<line x1="694.59" y1="1437.20" x2="694.59" y2="1444.20" stroke="#000" stroke-width="2.6" stroke-linecap="butt"/>
<line x1="694.59" y1="838.50" x2="694.59" y2="845.50" stroke="#000" stroke-width="2.6" stroke-linecap="butt"/>
<line x1="713.03" y1="1437.20" x2="713.03" y2="1444.20" stroke="#000" stroke-width="2.6" stroke-linecap="butt"/>
<line x1="713.03" y1="838.50" x2="713.03" y2="845.50" stroke="#000" stroke-width="2.6" stroke-linecap="butt"/>
<line x1="747.88" y1="1437.20" x2="747.88" y2="1444.20" stroke="#000" stroke-width="2.6" stroke-linecap="butt"/>
<line x1="747.88" y1="838.50" x2="747.88" y2="845.50" stroke="#000" stroke-width="2.6" stroke-linecap="butt"/>
<line x1="764.38" y1="1437.20" x2="764.38" y2="1444.20" stroke="#000" stroke-width="2.6" stroke-linecap="butt"/>
<line x1="764.38" y1="838.50" x2="764.38" y2="845.50" stroke="#000" stroke-width="2.6" stroke-linecap="butt"/>
<line x1="780.32" y1="1437.20" x2="780.32" y2="1444.20" stroke="#000" stroke-width="2.6" stroke-linecap="butt"/>
<line x1="780.32" y1="838.50" x2="780.32" y2="845.50" stroke="#000" stroke-width="2.6" stroke-linecap="butt"/>
<line x1="795.74" y1="1437.20" x2="795.74" y2="1444.20" stroke="#000" stroke-width="2.6" stroke-linecap="butt"/>
<line x1="795.74" y1="838.50" x2="795.74" y2="845.50" stroke="#000" stroke-width="2.6" stroke-linecap="butt"/>
<line x1="810.67" y1="1437.20" x2="810.67" y2="1444.20" stroke="#000" stroke-width="2.6" stroke-linecap="butt"/>
<line x1="810.67" y1="838.50" x2="810.67" y2="845.50" stroke="#000" stroke-width="2.6" stroke-linecap="butt"/>
<line x1="825.14" y1="1437.20" x2="825.14" y2="1444.20" stroke="#000" stroke-width="2.6" stroke-linecap="butt"/>
<line x1="825.14" y1="838.50" x2="825.14" y2="845.50" stroke="#000" stroke-width="2.6" stroke-linecap="butt"/>
<line x1="839.17" y1="1437.20" x2="839.17" y2="1444.20" stroke="#000" stroke-width="2.6" stroke-linecap="butt"/>
<line x1="839.17" y1="838.50" x2="839.17" y2="845.50" stroke="#000" stroke-width="2.6" stroke-linecap="butt"/>
<line x1="852.80" y1="1437.20" x2="852.80" y2="1444.20" stroke="#000" stroke-width="2.6" stroke-linecap="butt"/>
<line x1="852.80" y1="838.50" x2="852.80" y2="845.50" stroke="#000" stroke-width="2.6" stroke-linecap="butt"/>
<line x1="878.93" y1="1437.20" x2="878.93" y2="1444.20" stroke="#000" stroke-width="2.6" stroke-linecap="butt"/>
<line x1="878.93" y1="838.50" x2="878.93" y2="845.50" stroke="#000" stroke-width="2.6" stroke-linecap="butt"/>
<line x1="891.47" y1="1437.20" x2="891.47" y2="1444.20" stroke="#000" stroke-width="2.6" stroke-linecap="butt"/>
<line x1="891.47" y1="838.50" x2="891.47" y2="845.50" stroke="#000" stroke-width="2.6" stroke-linecap="butt"/>
<line x1="903.69" y1="1437.20" x2="903.69" y2="1444.20" stroke="#000" stroke-width="2.6" stroke-linecap="butt"/>
<line x1="903.69" y1="838.50" x2="903.69" y2="845.50" stroke="#000" stroke-width="2.6" stroke-linecap="butt"/>
<line x1="915.59" y1="1437.20" x2="915.59" y2="1444.20" stroke="#000" stroke-width="2.6" stroke-linecap="butt"/>
<line x1="915.59" y1="838.50" x2="915.59" y2="845.50" stroke="#000" stroke-width="2.6" stroke-linecap="butt"/>
<line x1="927.20" y1="1437.20" x2="927.20" y2="1444.20" stroke="#000" stroke-width="2.6" stroke-linecap="butt"/>
<line x1="927.20" y1="838.50" x2="927.20" y2="845.50" stroke="#000" stroke-width="2.6" stroke-linecap="butt"/>
<line x1="938.53" y1="1437.20" x2="938.53" y2="1444.20" stroke="#000" stroke-width="2.6" stroke-linecap="butt"/>
<line x1="938.53" y1="838.50" x2="938.53" y2="845.50" stroke="#000" stroke-width="2.6" stroke-linecap="butt"/>
<line x1="949.60" y1="1437.20" x2="949.60" y2="1444.20" stroke="#000" stroke-width="2.6" stroke-linecap="butt"/>
<line x1="949.60" y1="838.50" x2="949.60" y2="845.50" stroke="#000" stroke-width="2.6" stroke-linecap="butt"/>
<line x1="960.41" y1="1437.20" x2="960.41" y2="1444.20" stroke="#000" stroke-width="2.6" stroke-linecap="butt"/>
<line x1="960.41" y1="838.50" x2="960.41" y2="845.50" stroke="#000" stroke-width="2.6" stroke-linecap="butt"/>
<line x1="158.00" y1="1437.67" x2="165.00" y2="1437.67" stroke="#000" stroke-width="2.6" stroke-linecap="butt"/>
<line x1="964.00" y1="1437.67" x2="971.00" y2="1437.67" stroke="#000" stroke-width="2.6" stroke-linecap="butt"/>
<line x1="152.00" y1="1394.88" x2="165.00" y2="1394.88" stroke="#000" stroke-width="3" stroke-linecap="butt"/>
<line x1="958.00" y1="1394.88" x2="971.00" y2="1394.88" stroke="#000" stroke-width="3" stroke-linecap="butt"/>
<line x1="158.00" y1="1352.09" x2="165.00" y2="1352.09" stroke="#000" stroke-width="2.6" stroke-linecap="butt"/>
<line x1="964.00" y1="1352.09" x2="971.00" y2="1352.09" stroke="#000" stroke-width="2.6" stroke-linecap="butt"/>
<line x1="152.00" y1="1309.30" x2="165.00" y2="1309.30" stroke="#000" stroke-width="3" stroke-linecap="butt"/>
<line x1="958.00" y1="1309.30" x2="971.00" y2="1309.30" stroke="#000" stroke-width="3" stroke-linecap="butt"/>
<line x1="158.00" y1="1266.51" x2="165.00" y2="1266.51" stroke="#000" stroke-width="2.6" stroke-linecap="butt"/>
<line x1="964.00" y1="1266.51" x2="971.00" y2="1266.51" stroke="#000" stroke-width="2.6" stroke-linecap="butt"/>
<line x1="152.00" y1="1223.72" x2="165.00" y2="1223.72" stroke="#000" stroke-width="3" stroke-linecap="butt"/>
<line x1="958.00" y1="1223.72" x2="971.00" y2="1223.72" stroke="#000" stroke-width="3" stroke-linecap="butt"/>
<line x1="158.00" y1="1180.93" x2="165.00" y2="1180.93" stroke="#000" stroke-width="2.6" stroke-linecap="butt"/>
<line x1="964.00" y1="1180.93" x2="971.00" y2="1180.93" stroke="#000" stroke-width="2.6" stroke-linecap="butt"/>
<line x1="152.00" y1="1138.14" x2="165.00" y2="1138.14" stroke="#000" stroke-width="3" stroke-linecap="butt"/>
<line x1="958.00" y1="1138.14" x2="971.00" y2="1138.14" stroke="#000" stroke-width="3" stroke-linecap="butt"/>
<line x1="158.00" y1="1095.35" x2="165.00" y2="1095.35" stroke="#000" stroke-width="2.6" stroke-linecap="butt"/>
<line x1="964.00" y1="1095.35" x2="971.00" y2="1095.35" stroke="#000" stroke-width="2.6" stroke-linecap="butt"/>
<line x1="152.00" y1="1052.56" x2="165.00" y2="1052.56" stroke="#000" stroke-width="3" stroke-linecap="butt"/>
<line x1="958.00" y1="1052.56" x2="971.00" y2="1052.56" stroke="#000" stroke-width="3" stroke-linecap="butt"/>
<line x1="158.00" y1="1009.77" x2="165.00" y2="1009.77" stroke="#000" stroke-width="2.6" stroke-linecap="butt"/>
<line x1="964.00" y1="1009.77" x2="971.00" y2="1009.77" stroke="#000" stroke-width="2.6" stroke-linecap="butt"/>
<line x1="152.00" y1="966.98" x2="165.00" y2="966.98" stroke="#000" stroke-width="3" stroke-linecap="butt"/>
<line x1="958.00" y1="966.98" x2="971.00" y2="966.98" stroke="#000" stroke-width="3" stroke-linecap="butt"/>
<line x1="158.00" y1="924.19" x2="165.00" y2="924.19" stroke="#000" stroke-width="2.6" stroke-linecap="butt"/>
<line x1="964.00" y1="924.19" x2="971.00" y2="924.19" stroke="#000" stroke-width="2.6" stroke-linecap="butt"/>
<line x1="152.00" y1="881.40" x2="165.00" y2="881.40" stroke="#000" stroke-width="3" stroke-linecap="butt"/>
<line x1="958.00" y1="881.40" x2="971.00" y2="881.40" stroke="#000" stroke-width="3" stroke-linecap="butt"/>
<line x1="158.00" y1="838.61" x2="165.00" y2="838.61" stroke="#000" stroke-width="2.6" stroke-linecap="butt"/>
<line x1="964.00" y1="838.61" x2="971.00" y2="838.61" stroke="#000" stroke-width="2.6" stroke-linecap="butt"/>
<rect x="165.00" y="838.50" width="806.00" height="598.70" fill="none" stroke="#000" stroke-width="3.5"/>
<text transform="translate(71.10,1403.21) scale(1.0700,1)" font-size="30.60" fill="#111"><tspan font-family="Liberation Sans" font-weight="bold" font-style="normal">2600</tspan></text>
<text transform="translate(71.10,1317.63) scale(1.0700,1)" font-size="30.60" fill="#111"><tspan font-family="Liberation Sans" font-weight="bold" font-style="normal">2800</tspan></text>
<text transform="translate(71.10,1232.05) scale(1.0700,1)" font-size="30.60" fill="#111"><tspan font-family="Liberation Sans" font-weight="bold" font-style="normal">3000</tspan></text>
<text transform="translate(71.10,1146.47) scale(1.0700,1)" font-size="30.60" fill="#111"><tspan font-family="Liberation Sans" font-weight="bold" font-style="normal">3200</tspan></text>
<text transform="translate(71.10,1060.89) scale(1.0700,1)" font-size="30.60" fill="#111"><tspan font-family="Liberation Sans" font-weight="bold" font-style="normal">3400</tspan></text>
<text transform="translate(71.10,975.31) scale(1.0700,1)" font-size="30.60" fill="#111"><tspan font-family="Liberation Sans" font-weight="bold" font-style="normal">3600</tspan></text>
<text transform="translate(71.10,889.73) scale(1.0700,1)" font-size="30.60" fill="#111"><tspan font-family="Liberation Sans" font-weight="bold" font-style="normal">3800</tspan></text>
<text transform="translate(179.96,1482.20) scale(1.0700,1)" font-size="30.30" fill="#111" font-family="Liberation Sans" font-weight="bold">1E-4</text>
<text transform="translate(505.88,1482.20) scale(1.0700,1)" font-size="30.30" fill="#111" font-family="Liberation Sans" font-weight="bold">2E-4</text>
<text transform="translate(696.54,1482.20) scale(1.0700,1)" font-size="30.30" fill="#111" font-family="Liberation Sans" font-weight="bold">3E-4</text>
<text transform="translate(831.81,1482.20) scale(1.0700,1)" font-size="30.30" fill="#111" font-family="Liberation Sans" font-weight="bold">4E-4</text>
<text transform="translate(936.73,1482.20) scale(1.0700,1)" font-size="30.30" fill="#111" font-family="Liberation Sans" font-weight="bold">5E-4</text>
<text transform="translate(411.81,1542.50) scale(1.0502,1)" font-size="34.50" fill="#111"><tspan font-family="Liberation Sans" font-weight="bold" font-style="normal">Concentration (%)</tspan></text>
<text transform="translate(38.40,1141.90) rotate(-90) translate(-141.53,8.54) scale(1.0179,1)" font-size="35.50" fill="#111"><tspan font-family="Liberation Serif" font-weight="normal" font-style="normal">Δ </tspan><tspan font-family="Liberation Serif" font-weight="bold" font-style="italic">I</tspan><tspan font-family="Liberation Serif" font-weight="bold" font-style="normal"> (photon count)</tspan></text>
<circle cx="207.00" cy="885.00" r="6.3" fill="#000"/>
<text transform="translate(243.71,894.20) scale(1.0261,1)" font-size="30.40" fill="#111"><tspan font-family="Liberation Sans" font-weight="bold" font-style="normal">POD 0.0005 mg/ml</tspan></text>
<line x1="200.20" y1="917.00" x2="200.20" y2="1421.00" stroke="#3a3535" stroke-width="1.8" stroke-linecap="butt"/>
<line x1="639.90" y1="897.00" x2="639.90" y2="1021.00" stroke="#3a3535" stroke-width="1.8" stroke-linecap="butt"/>
<line x1="220.00" y1="1012.10" x2="630.00" y2="1012.10" stroke="#7a7370" stroke-width="2.5" stroke-linecap="butt"/>
<path d="M213.50,1012.10 L223.50,1007.10 L223.50,1017.10 Z" fill="#2a2222"/>
<path d="M637.00,1012.10 L627.00,1017.10 L627.00,1007.10 Z" fill="#2a2222"/>
<text transform="translate(304.91,1004.70) scale(1.0439,1)" font-size="25.60" fill="#3a3a3a"><tspan font-family="Liberation Sans" font-weight="bold" font-style="normal">Linear range</tspan></text>
<path d="M215.00,1359.91 L218.54,1353.94 L222.09,1348.02 L225.63,1342.15 L229.17,1336.33 L232.71,1330.56 L236.26,1324.84 L239.80,1319.17 L243.34,1313.55 L246.88,1307.98 L250.43,1302.46 L253.97,1296.99 L257.51,1291.57 L261.06,1286.20 L264.60,1280.87 L268.14,1275.59 L271.68,1270.37 L275.23,1265.19 L278.77,1260.05 L282.31,1254.97 L285.85,1249.93 L289.40,1244.94 L292.94,1240.00 L296.48,1235.10 L300.03,1230.25 L303.57,1225.45 L307.11,1220.70 L310.65,1215.98 L314.20,1211.32 L317.74,1206.70 L321.28,1202.13 L324.82,1197.60 L328.37,1193.11 L331.91,1188.67 L335.45,1184.28 L338.99,1179.93 L342.54,1175.62 L346.08,1171.36 L349.62,1167.14 L353.17,1162.96 L356.71,1158.83 L360.25,1154.73 L363.79,1150.69 L367.34,1146.68 L370.88,1142.71 L374.42,1138.79 L377.96,1134.90 L381.51,1131.05 L385.05,1127.25 L388.59,1123.48 L392.14,1119.75 L395.68,1116.06 L399.22,1112.41 L402.76,1108.80 L406.31,1105.22 L409.85,1101.68 L413.39,1098.17 L416.93,1094.70 L420.48,1091.27 L424.02,1087.87 L427.56,1084.51 L431.11,1081.18 L434.65,1077.88 L438.19,1074.62 L441.73,1071.39 L445.28,1068.19 L448.82,1065.03 L452.36,1061.90 L455.90,1058.80 L459.45,1055.73 L462.99,1052.70 L466.53,1049.70 L470.08,1046.73 L473.62,1043.79 L477.16,1040.89 L480.70,1038.02 L484.25,1035.18 L487.79,1032.37 L491.33,1029.60 L494.87,1026.86 L498.42,1024.15 L501.96,1021.48 L505.50,1018.84 L509.05,1016.23 L512.59,1013.66 L516.13,1011.12 L519.67,1008.61 L523.22,1006.13 L526.76,1003.69 L530.30,1001.28 L533.84,998.91 L537.39,996.57 L540.93,994.26 L544.47,991.99 L548.02,989.75 L551.56,987.54 L555.10,985.37 L558.64,983.23 L562.19,981.13 L565.73,979.06 L569.27,977.02 L572.81,975.02 L576.36,973.06 L579.90,971.13 L583.44,969.23 L586.98,967.37 L590.53,965.54 L594.07,963.75 L597.61,961.99 L601.16,960.27 L604.70,958.58 L608.24,956.93 L611.78,955.31 L615.33,953.72 L618.87,952.16 L622.41,950.64 L625.95,949.15 L629.50,947.68 L633.04,946.25 L636.58,944.85 L640.13,943.47 L643.67,942.13 L647.21,940.81 L650.75,939.52 L654.30,938.25 L657.84,937.02 L661.38,935.81 L664.92,934.62 L668.47,933.46 L672.01,932.32 L675.55,931.21 L679.10,930.13 L682.64,929.07 L686.18,928.03 L689.72,927.01 L693.27,926.02 L696.81,925.06 L700.35,924.11 L703.89,923.19 L707.44,922.29 L710.98,921.42 L714.52,920.57 L718.07,919.74 L721.61,918.93 L725.15,918.14 L728.69,917.38 L732.24,916.64 L735.78,915.91 L739.32,915.21 L742.86,914.53 L746.41,913.87 L749.95,913.23 L753.49,912.62 L757.04,912.02 L760.58,911.44 L764.12,910.88 L767.66,910.34 L771.21,909.82 L774.75,909.32 L778.29,908.84 L781.83,908.37 L785.38,907.93 L788.92,907.50 L792.46,907.09 L796.01,906.70 L799.55,906.33 L803.09,905.97 L806.63,905.63 L810.18,905.31 L813.72,905.01 L817.26,904.72 L820.80,904.45 L824.35,904.19 L827.89,903.95 L831.43,903.73 L834.97,903.52 L838.52,903.33 L842.06,903.15 L845.60,902.99 L849.15,902.84 L852.69,902.70 L856.23,902.59 L859.77,902.48 L863.32,902.39 L866.86,902.31 L870.40,902.25 L873.94,902.20 L877.49,902.16 L881.03,902.14 L884.57,902.13 L888.12,902.13 L891.66,902.14 L895.20,902.17 L898.74,902.21 L902.29,902.26 L905.83,902.32 L909.37,902.39 L912.91,902.48 L916.46,902.57 L920.00,902.68" fill="none" stroke="#000" stroke-width="2.7" stroke-linejoin="round" stroke-linecap="butt"/>
<circle cx="214.60" cy="1359.30" r="6.5" fill="#000"/>
<circle cx="405.00" cy="1113.60" r="6.5" fill="#000"/>
<circle cx="539.80" cy="992.50" r="6.5" fill="#000"/>
<circle cx="645.60" cy="927.40" r="6.5" fill="#000"/>
<circle cx="730.60" cy="925.80" r="6.5" fill="#000"/>
<circle cx="803.30" cy="908.50" r="6.5" fill="#000"/>
<circle cx="865.70" cy="908.20" r="6.5" fill="#000"/>
<circle cx="921.10" cy="898.20" r="6.5" fill="#000"/>
<line x1="611.80" y1="1342.70" x2="611.80" y2="1348.70" stroke="#000" stroke-width="1.8" stroke-linecap="butt"/>
<line x1="611.80" y1="1088.20" x2="611.80" y2="1094.20" stroke="#000" stroke-width="1.8" stroke-linecap="butt"/>
<line x1="644.59" y1="1342.70" x2="644.59" y2="1346.20" stroke="#000" stroke-width="1.8" stroke-linecap="butt"/>
<line x1="644.59" y1="1088.20" x2="644.59" y2="1091.70" stroke="#000" stroke-width="1.8" stroke-linecap="butt"/>
<line x1="674.25" y1="1342.70" x2="674.25" y2="1346.20" stroke="#000" stroke-width="1.8" stroke-linecap="butt"/>
<line x1="674.25" y1="1088.20" x2="674.25" y2="1091.70" stroke="#000" stroke-width="1.8" stroke-linecap="butt"/>
<line x1="701.33" y1="1342.70" x2="701.33" y2="1346.20" stroke="#000" stroke-width="1.8" stroke-linecap="butt"/>
<line x1="701.33" y1="1088.20" x2="701.33" y2="1091.70" stroke="#000" stroke-width="1.8" stroke-linecap="butt"/>
<line x1="726.24" y1="1342.70" x2="726.24" y2="1346.20" stroke="#000" stroke-width="1.8" stroke-linecap="butt"/>
<line x1="726.24" y1="1088.20" x2="726.24" y2="1091.70" stroke="#000" stroke-width="1.8" stroke-linecap="butt"/>
<line x1="749.31" y1="1342.70" x2="749.31" y2="1346.20" stroke="#000" stroke-width="1.8" stroke-linecap="butt"/>
<line x1="749.31" y1="1088.20" x2="749.31" y2="1091.70" stroke="#000" stroke-width="1.8" stroke-linecap="butt"/>
<line x1="770.78" y1="1342.70" x2="770.78" y2="1346.20" stroke="#000" stroke-width="1.8" stroke-linecap="butt"/>
<line x1="770.78" y1="1088.20" x2="770.78" y2="1091.70" stroke="#000" stroke-width="1.8" stroke-linecap="butt"/>
<line x1="790.86" y1="1342.70" x2="790.86" y2="1346.20" stroke="#000" stroke-width="1.8" stroke-linecap="butt"/>
<line x1="790.86" y1="1088.20" x2="790.86" y2="1091.70" stroke="#000" stroke-width="1.8" stroke-linecap="butt"/>
<line x1="809.73" y1="1342.70" x2="809.73" y2="1346.20" stroke="#000" stroke-width="1.8" stroke-linecap="butt"/>
<line x1="809.73" y1="1088.20" x2="809.73" y2="1091.70" stroke="#000" stroke-width="1.8" stroke-linecap="butt"/>
<line x1="827.52" y1="1342.70" x2="827.52" y2="1348.70" stroke="#000" stroke-width="1.8" stroke-linecap="butt"/>
<line x1="827.52" y1="1088.20" x2="827.52" y2="1094.20" stroke="#000" stroke-width="1.8" stroke-linecap="butt"/>
<line x1="844.34" y1="1342.70" x2="844.34" y2="1346.20" stroke="#000" stroke-width="1.8" stroke-linecap="butt"/>
<line x1="844.34" y1="1088.20" x2="844.34" y2="1091.70" stroke="#000" stroke-width="1.8" stroke-linecap="butt"/>
<line x1="860.31" y1="1342.70" x2="860.31" y2="1346.20" stroke="#000" stroke-width="1.8" stroke-linecap="butt"/>
<line x1="860.31" y1="1088.20" x2="860.31" y2="1091.70" stroke="#000" stroke-width="1.8" stroke-linecap="butt"/>
<line x1="875.49" y1="1342.70" x2="875.49" y2="1346.20" stroke="#000" stroke-width="1.8" stroke-linecap="butt"/>
<line x1="875.49" y1="1088.20" x2="875.49" y2="1091.70" stroke="#000" stroke-width="1.8" stroke-linecap="butt"/>
<line x1="889.97" y1="1342.70" x2="889.97" y2="1346.20" stroke="#000" stroke-width="1.8" stroke-linecap="butt"/>
<line x1="889.97" y1="1088.20" x2="889.97" y2="1091.70" stroke="#000" stroke-width="1.8" stroke-linecap="butt"/>
<line x1="903.80" y1="1342.70" x2="903.80" y2="1346.20" stroke="#000" stroke-width="1.8" stroke-linecap="butt"/>
<line x1="903.80" y1="1088.20" x2="903.80" y2="1091.70" stroke="#000" stroke-width="1.8" stroke-linecap="butt"/>
<line x1="917.05" y1="1342.70" x2="917.05" y2="1346.20" stroke="#000" stroke-width="1.8" stroke-linecap="butt"/>
<line x1="917.05" y1="1088.20" x2="917.05" y2="1091.70" stroke="#000" stroke-width="1.8" stroke-linecap="butt"/>
<line x1="573.40" y1="1342.00" x2="579.40" y2="1342.00" stroke="#000" stroke-width="1.8" stroke-linecap="butt"/>
<line x1="915.30" y1="1342.00" x2="921.30" y2="1342.00" stroke="#000" stroke-width="1.8" stroke-linecap="butt"/>
<line x1="575.90" y1="1320.85" x2="579.40" y2="1320.85" stroke="#000" stroke-width="1.8" stroke-linecap="butt"/>
<line x1="917.80" y1="1320.85" x2="921.30" y2="1320.85" stroke="#000" stroke-width="1.8" stroke-linecap="butt"/>
<line x1="573.40" y1="1299.70" x2="579.40" y2="1299.70" stroke="#000" stroke-width="1.8" stroke-linecap="butt"/>
<line x1="915.30" y1="1299.70" x2="921.30" y2="1299.70" stroke="#000" stroke-width="1.8" stroke-linecap="butt"/>
<line x1="575.90" y1="1278.55" x2="579.40" y2="1278.55" stroke="#000" stroke-width="1.8" stroke-linecap="butt"/>
<line x1="917.80" y1="1278.55" x2="921.30" y2="1278.55" stroke="#000" stroke-width="1.8" stroke-linecap="butt"/>
<line x1="573.40" y1="1257.40" x2="579.40" y2="1257.40" stroke="#000" stroke-width="1.8" stroke-linecap="butt"/>
<line x1="915.30" y1="1257.40" x2="921.30" y2="1257.40" stroke="#000" stroke-width="1.8" stroke-linecap="butt"/>
<line x1="575.90" y1="1236.25" x2="579.40" y2="1236.25" stroke="#000" stroke-width="1.8" stroke-linecap="butt"/>
<line x1="917.80" y1="1236.25" x2="921.30" y2="1236.25" stroke="#000" stroke-width="1.8" stroke-linecap="butt"/>
<line x1="573.40" y1="1215.10" x2="579.40" y2="1215.10" stroke="#000" stroke-width="1.8" stroke-linecap="butt"/>
<line x1="915.30" y1="1215.10" x2="921.30" y2="1215.10" stroke="#000" stroke-width="1.8" stroke-linecap="butt"/>
<line x1="575.90" y1="1193.95" x2="579.40" y2="1193.95" stroke="#000" stroke-width="1.8" stroke-linecap="butt"/>
<line x1="917.80" y1="1193.95" x2="921.30" y2="1193.95" stroke="#000" stroke-width="1.8" stroke-linecap="butt"/>
<line x1="573.40" y1="1172.80" x2="579.40" y2="1172.80" stroke="#000" stroke-width="1.8" stroke-linecap="butt"/>
<line x1="915.30" y1="1172.80" x2="921.30" y2="1172.80" stroke="#000" stroke-width="1.8" stroke-linecap="butt"/>
<line x1="575.90" y1="1151.65" x2="579.40" y2="1151.65" stroke="#000" stroke-width="1.8" stroke-linecap="butt"/>
<line x1="917.80" y1="1151.65" x2="921.30" y2="1151.65" stroke="#000" stroke-width="1.8" stroke-linecap="butt"/>
<line x1="573.40" y1="1130.50" x2="579.40" y2="1130.50" stroke="#000" stroke-width="1.8" stroke-linecap="butt"/>
<line x1="915.30" y1="1130.50" x2="921.30" y2="1130.50" stroke="#000" stroke-width="1.8" stroke-linecap="butt"/>
<line x1="575.90" y1="1109.35" x2="579.40" y2="1109.35" stroke="#000" stroke-width="1.8" stroke-linecap="butt"/>
<line x1="917.80" y1="1109.35" x2="921.30" y2="1109.35" stroke="#000" stroke-width="1.8" stroke-linecap="butt"/>
<line x1="573.40" y1="1088.20" x2="579.40" y2="1088.20" stroke="#000" stroke-width="1.8" stroke-linecap="butt"/>
<line x1="915.30" y1="1088.20" x2="921.30" y2="1088.20" stroke="#000" stroke-width="1.8" stroke-linecap="butt"/>
<rect x="579.40" y="1088.20" width="341.90" height="254.50" fill="none" stroke="#000" stroke-width="2.2"/>
<text transform="translate(513.52,1348.75) scale(1.0900,1)" font-size="23.10" fill="#1a1a1a"><tspan font-family="Liberation Sans" font-weight="bold" font-style="normal">2600</tspan></text>
<text transform="translate(513.52,1306.45) scale(1.0900,1)" font-size="23.10" fill="#1a1a1a"><tspan font-family="Liberation Sans" font-weight="bold" font-style="normal">2800</tspan></text>
<text transform="translate(513.52,1264.15) scale(1.0900,1)" font-size="23.10" fill="#1a1a1a"><tspan font-family="Liberation Sans" font-weight="bold" font-style="normal">3000</tspan></text>
<text transform="translate(513.52,1221.85) scale(1.0900,1)" font-size="23.10" fill="#1a1a1a"><tspan font-family="Liberation Sans" font-weight="bold" font-style="normal">3200</tspan></text>
<text transform="translate(513.52,1179.55) scale(1.0900,1)" font-size="23.10" fill="#1a1a1a"><tspan font-family="Liberation Sans" font-weight="bold" font-style="normal">3400</tspan></text>
<text transform="translate(513.52,1137.25) scale(1.0900,1)" font-size="23.10" fill="#1a1a1a"><tspan font-family="Liberation Sans" font-weight="bold" font-style="normal">3600</tspan></text>
<text transform="translate(513.52,1094.95) scale(1.0900,1)" font-size="23.10" fill="#1a1a1a"><tspan font-family="Liberation Sans" font-weight="bold" font-style="normal">3800</tspan></text>
<text transform="translate(585.10,1370.90) scale(0.9800,1)" font-size="25.80" fill="#1a1a1a" font-family="Liberation Sans" font-weight="bold">1E-4</text>
<text transform="translate(800.81,1370.90) scale(0.9800,1)" font-size="25.80" fill="#1a1a1a" font-family="Liberation Sans" font-weight="bold">2E-4</text>
<text transform="translate(636.42,1403.50) scale(1.0999,1)" font-size="24.00" fill="#1a1a1a"><tspan font-family="Liberation Sans" font-weight="bold" font-style="normal">Concentration (%)</tspan></text>
<text transform="translate(494.20,1207.70) rotate(-90) translate(-103.91,6.20) scale(1.0284,1)" font-size="25.80" fill="#1a1a1a"><tspan font-family="Liberation Serif" font-weight="normal" font-style="normal">Δ </tspan><tspan font-family="Liberation Serif" font-weight="bold" font-style="italic">I</tspan><tspan font-family="Liberation Serif" font-weight="bold" font-style="normal"> (photon count)</tspan></text>
<line x1="612.30" y1="1313.30" x2="896.90" y2="1098.50" stroke="#444" stroke-width="2" stroke-linecap="butt"/>
<line x1="611.80" y1="1315.20" x2="611.80" y2="1334.20" stroke="#111" stroke-width="2" stroke-linecap="butt"/>
<line x1="609.90" y1="1315.20" x2="613.70" y2="1315.20" stroke="#111" stroke-width="2" stroke-linecap="butt"/>
<line x1="609.90" y1="1334.20" x2="613.70" y2="1334.20" stroke="#111" stroke-width="2" stroke-linecap="butt"/>
<circle cx="611.80" cy="1324.70" r="4.6" fill="#111"/>
<line x1="738.50" y1="1193.60" x2="738.50" y2="1212.60" stroke="#111" stroke-width="2" stroke-linecap="butt"/>
<line x1="736.60" y1="1193.60" x2="740.40" y2="1193.60" stroke="#111" stroke-width="2" stroke-linecap="butt"/>
<line x1="736.60" y1="1212.60" x2="740.40" y2="1212.60" stroke="#111" stroke-width="2" stroke-linecap="butt"/>
<circle cx="738.50" cy="1203.10" r="4.6" fill="#111"/>
<line x1="827.10" y1="1133.90" x2="827.10" y2="1152.90" stroke="#111" stroke-width="2" stroke-linecap="butt"/>
<line x1="825.20" y1="1133.90" x2="829.00" y2="1133.90" stroke="#111" stroke-width="2" stroke-linecap="butt"/>
<line x1="825.20" y1="1152.90" x2="829.00" y2="1152.90" stroke="#111" stroke-width="2" stroke-linecap="butt"/>
<circle cx="827.10" cy="1143.40" r="4.6" fill="#111"/>
<line x1="897.80" y1="1101.80" x2="897.80" y2="1120.80" stroke="#111" stroke-width="2" stroke-linecap="butt"/>
<line x1="895.90" y1="1101.80" x2="899.70" y2="1101.80" stroke="#111" stroke-width="2" stroke-linecap="butt"/>
<line x1="895.90" y1="1120.80" x2="899.70" y2="1120.80" stroke="#111" stroke-width="2" stroke-linecap="butt"/>
<circle cx="897.80" cy="1111.30" r="4.6" fill="#111"/>
<text transform="translate(745.02,1252.80) scale(1.0864,1)" font-size="23.00" fill="#222"><tspan font-family="Liberation Sans" font-weight="bold" font-style="normal">slope:</tspan></text>
<text stroke="#222" stroke-width="0.7" transform="translate(824.79,1254.30) scale(1.0625,1)" font-size="22.70" fill="#222"><tspan font-family="Liberation Sans" font-weight="normal" font-style="normal">2500</tspan></text>
<text transform="translate(747.36,1278.70) scale(0.9590,1)" font-size="23.98" fill="#222"><tspan font-family="Liberation Sans" font-weight="bold" font-style="normal">R</tspan></text>
<text transform="translate(765.67,1270.00) scale(1.1903,1)" font-size="15.18" fill="#222"><tspan font-family="Liberation Sans" font-weight="bold" font-style="normal">2</tspan></text>
<text transform="translate(774.03,1278.70) scale(1.1025,1)" font-size="25.15" fill="#222"><tspan font-family="Liberation Sans" font-weight="bold" font-style="normal">:</tspan></text>
<text transform="translate(790.31,1278.57) scale(1.0566,1)" font-size="23.73" fill="#222"><tspan font-family="Liberation Sans" font-weight="bold" font-style="normal">0.96</tspan></text>
<line x1="786.00" y1="1230.60" x2="767.00" y2="1207.50" stroke="#222" stroke-width="1.8" stroke-linecap="butt"/>
<path d="M763.40,1203.60 L770.64,1207.97 L766.43,1211.50 Z" fill="#111"/>
<rect x="5" y="1640" width="1019" height="753" fill="#fbfbfb"/>
<line x1="211.50" y1="2273.70" x2="211.50" y2="2286.70" stroke="#000" stroke-width="3" stroke-linecap="butt"/>
<line x1="211.50" y1="1666.30" x2="211.50" y2="1679.30" stroke="#000" stroke-width="3" stroke-linecap="butt"/>
<line x1="542.00" y1="2273.70" x2="542.00" y2="2286.70" stroke="#000" stroke-width="3" stroke-linecap="butt"/>
<line x1="542.00" y1="1666.30" x2="542.00" y2="1679.30" stroke="#000" stroke-width="3" stroke-linecap="butt"/>
<line x1="735.33" y1="2273.70" x2="735.33" y2="2286.70" stroke="#000" stroke-width="3" stroke-linecap="butt"/>
<line x1="735.33" y1="1666.30" x2="735.33" y2="1679.30" stroke="#000" stroke-width="3" stroke-linecap="butt"/>
<line x1="872.50" y1="2273.70" x2="872.50" y2="2286.70" stroke="#000" stroke-width="3" stroke-linecap="butt"/>
<line x1="872.50" y1="1666.30" x2="872.50" y2="1679.30" stroke="#000" stroke-width="3" stroke-linecap="butt"/>
<line x1="978.90" y1="2273.70" x2="978.90" y2="2286.70" stroke="#000" stroke-width="3" stroke-linecap="butt"/>
<line x1="978.90" y1="1666.30" x2="978.90" y2="1679.30" stroke="#000" stroke-width="3" stroke-linecap="butt"/>
<line x1="261.74" y1="2273.70" x2="261.74" y2="2280.70" stroke="#000" stroke-width="2.6" stroke-linecap="butt"/>
<line x1="261.74" y1="1666.30" x2="261.74" y2="1673.30" stroke="#000" stroke-width="2.6" stroke-linecap="butt"/>
<line x1="307.18" y1="2273.70" x2="307.18" y2="2280.70" stroke="#000" stroke-width="2.6" stroke-linecap="butt"/>
<line x1="307.18" y1="1666.30" x2="307.18" y2="1673.30" stroke="#000" stroke-width="2.6" stroke-linecap="butt"/>
<line x1="348.67" y1="2273.70" x2="348.67" y2="2280.70" stroke="#000" stroke-width="2.6" stroke-linecap="butt"/>
<line x1="348.67" y1="1666.30" x2="348.67" y2="1673.30" stroke="#000" stroke-width="2.6" stroke-linecap="butt"/>
<line x1="386.84" y1="2273.70" x2="386.84" y2="2280.70" stroke="#000" stroke-width="2.6" stroke-linecap="butt"/>
<line x1="386.84" y1="1666.30" x2="386.84" y2="1673.30" stroke="#000" stroke-width="2.6" stroke-linecap="butt"/>
<line x1="422.17" y1="2273.70" x2="422.17" y2="2280.70" stroke="#000" stroke-width="2.6" stroke-linecap="butt"/>
<line x1="422.17" y1="1666.30" x2="422.17" y2="1673.30" stroke="#000" stroke-width="2.6" stroke-linecap="butt"/>
<line x1="455.07" y1="2273.70" x2="455.07" y2="2280.70" stroke="#000" stroke-width="2.6" stroke-linecap="butt"/>
<line x1="455.07" y1="1666.30" x2="455.07" y2="1673.30" stroke="#000" stroke-width="2.6" stroke-linecap="butt"/>
<line x1="485.84" y1="2273.70" x2="485.84" y2="2280.70" stroke="#000" stroke-width="2.6" stroke-linecap="butt"/>
<line x1="485.84" y1="1666.30" x2="485.84" y2="1673.30" stroke="#000" stroke-width="2.6" stroke-linecap="butt"/>
<line x1="514.75" y1="2273.70" x2="514.75" y2="2280.70" stroke="#000" stroke-width="2.6" stroke-linecap="butt"/>
<line x1="514.75" y1="1666.30" x2="514.75" y2="1673.30" stroke="#000" stroke-width="2.6" stroke-linecap="butt"/>
<line x1="567.78" y1="2273.70" x2="567.78" y2="2280.70" stroke="#000" stroke-width="2.6" stroke-linecap="butt"/>
<line x1="567.78" y1="1666.30" x2="567.78" y2="1673.30" stroke="#000" stroke-width="2.6" stroke-linecap="butt"/>
<line x1="592.24" y1="2273.70" x2="592.24" y2="2280.70" stroke="#000" stroke-width="2.6" stroke-linecap="butt"/>
<line x1="592.24" y1="1666.30" x2="592.24" y2="1673.30" stroke="#000" stroke-width="2.6" stroke-linecap="butt"/>
<line x1="615.50" y1="2273.70" x2="615.50" y2="2280.70" stroke="#000" stroke-width="2.6" stroke-linecap="butt"/>
<line x1="615.50" y1="1666.30" x2="615.50" y2="1673.30" stroke="#000" stroke-width="2.6" stroke-linecap="butt"/>
<line x1="637.68" y1="2273.70" x2="637.68" y2="2280.70" stroke="#000" stroke-width="2.6" stroke-linecap="butt"/>
<line x1="637.68" y1="1666.30" x2="637.68" y2="1673.30" stroke="#000" stroke-width="2.6" stroke-linecap="butt"/>
<line x1="658.88" y1="2273.70" x2="658.88" y2="2280.70" stroke="#000" stroke-width="2.6" stroke-linecap="butt"/>
<line x1="658.88" y1="1666.30" x2="658.88" y2="1673.30" stroke="#000" stroke-width="2.6" stroke-linecap="butt"/>
<line x1="679.17" y1="2273.70" x2="679.17" y2="2280.70" stroke="#000" stroke-width="2.6" stroke-linecap="butt"/>
<line x1="679.17" y1="1666.30" x2="679.17" y2="1673.30" stroke="#000" stroke-width="2.6" stroke-linecap="butt"/>
<line x1="698.64" y1="2273.70" x2="698.64" y2="2280.70" stroke="#000" stroke-width="2.6" stroke-linecap="butt"/>
<line x1="698.64" y1="1666.30" x2="698.64" y2="1673.30" stroke="#000" stroke-width="2.6" stroke-linecap="butt"/>
<line x1="717.34" y1="2273.70" x2="717.34" y2="2280.70" stroke="#000" stroke-width="2.6" stroke-linecap="butt"/>
<line x1="717.34" y1="1666.30" x2="717.34" y2="1673.30" stroke="#000" stroke-width="2.6" stroke-linecap="butt"/>
<line x1="752.67" y1="2273.70" x2="752.67" y2="2280.70" stroke="#000" stroke-width="2.6" stroke-linecap="butt"/>
<line x1="752.67" y1="1666.30" x2="752.67" y2="1673.30" stroke="#000" stroke-width="2.6" stroke-linecap="butt"/>
<line x1="769.40" y1="2273.70" x2="769.40" y2="2280.70" stroke="#000" stroke-width="2.6" stroke-linecap="butt"/>
<line x1="769.40" y1="1666.30" x2="769.40" y2="1673.30" stroke="#000" stroke-width="2.6" stroke-linecap="butt"/>
<line x1="785.57" y1="2273.70" x2="785.57" y2="2280.70" stroke="#000" stroke-width="2.6" stroke-linecap="butt"/>
<line x1="785.57" y1="1666.30" x2="785.57" y2="1673.30" stroke="#000" stroke-width="2.6" stroke-linecap="butt"/>
<line x1="801.20" y1="2273.70" x2="801.20" y2="2280.70" stroke="#000" stroke-width="2.6" stroke-linecap="butt"/>
<line x1="801.20" y1="1666.30" x2="801.20" y2="1673.30" stroke="#000" stroke-width="2.6" stroke-linecap="butt"/>
<line x1="816.34" y1="2273.70" x2="816.34" y2="2280.70" stroke="#000" stroke-width="2.6" stroke-linecap="butt"/>
<line x1="816.34" y1="1666.30" x2="816.34" y2="1673.30" stroke="#000" stroke-width="2.6" stroke-linecap="butt"/>
<line x1="831.01" y1="2273.70" x2="831.01" y2="2280.70" stroke="#000" stroke-width="2.6" stroke-linecap="butt"/>
<line x1="831.01" y1="1666.30" x2="831.01" y2="1673.30" stroke="#000" stroke-width="2.6" stroke-linecap="butt"/>
<line x1="845.25" y1="2273.70" x2="845.25" y2="2280.70" stroke="#000" stroke-width="2.6" stroke-linecap="butt"/>
<line x1="845.25" y1="1666.30" x2="845.25" y2="1673.30" stroke="#000" stroke-width="2.6" stroke-linecap="butt"/>
<line x1="859.07" y1="2273.70" x2="859.07" y2="2280.70" stroke="#000" stroke-width="2.6" stroke-linecap="butt"/>
<line x1="859.07" y1="1666.30" x2="859.07" y2="1673.30" stroke="#000" stroke-width="2.6" stroke-linecap="butt"/>
<line x1="885.57" y1="2273.70" x2="885.57" y2="2280.70" stroke="#000" stroke-width="2.6" stroke-linecap="butt"/>
<line x1="885.57" y1="1666.30" x2="885.57" y2="1673.30" stroke="#000" stroke-width="2.6" stroke-linecap="butt"/>
<line x1="898.28" y1="2273.70" x2="898.28" y2="2280.70" stroke="#000" stroke-width="2.6" stroke-linecap="butt"/>
<line x1="898.28" y1="1666.30" x2="898.28" y2="1673.30" stroke="#000" stroke-width="2.6" stroke-linecap="butt"/>
<line x1="910.67" y1="2273.70" x2="910.67" y2="2280.70" stroke="#000" stroke-width="2.6" stroke-linecap="butt"/>
<line x1="910.67" y1="1666.30" x2="910.67" y2="1673.30" stroke="#000" stroke-width="2.6" stroke-linecap="butt"/>
<line x1="922.74" y1="2273.70" x2="922.74" y2="2280.70" stroke="#000" stroke-width="2.6" stroke-linecap="butt"/>
<line x1="922.74" y1="1666.30" x2="922.74" y2="1673.30" stroke="#000" stroke-width="2.6" stroke-linecap="butt"/>
<line x1="934.51" y1="2273.70" x2="934.51" y2="2280.70" stroke="#000" stroke-width="2.6" stroke-linecap="butt"/>
<line x1="934.51" y1="1666.30" x2="934.51" y2="1673.30" stroke="#000" stroke-width="2.6" stroke-linecap="butt"/>
<line x1="946.00" y1="2273.70" x2="946.00" y2="2280.70" stroke="#000" stroke-width="2.6" stroke-linecap="butt"/>
<line x1="946.00" y1="1666.30" x2="946.00" y2="1673.30" stroke="#000" stroke-width="2.6" stroke-linecap="butt"/>
<line x1="957.22" y1="2273.70" x2="957.22" y2="2280.70" stroke="#000" stroke-width="2.6" stroke-linecap="butt"/>
<line x1="957.22" y1="1666.30" x2="957.22" y2="1673.30" stroke="#000" stroke-width="2.6" stroke-linecap="butt"/>
<line x1="968.18" y1="2273.70" x2="968.18" y2="2280.70" stroke="#000" stroke-width="2.6" stroke-linecap="butt"/>
<line x1="968.18" y1="1666.30" x2="968.18" y2="1673.30" stroke="#000" stroke-width="2.6" stroke-linecap="butt"/>
<line x1="154.80" y1="2274.05" x2="161.80" y2="2274.05" stroke="#000" stroke-width="2.6" stroke-linecap="butt"/>
<line x1="972.00" y1="2274.05" x2="979.00" y2="2274.05" stroke="#000" stroke-width="2.6" stroke-linecap="butt"/>
<line x1="148.80" y1="2218.80" x2="161.80" y2="2218.80" stroke="#000" stroke-width="3" stroke-linecap="butt"/>
<line x1="966.00" y1="2218.80" x2="979.00" y2="2218.80" stroke="#000" stroke-width="3" stroke-linecap="butt"/>
<line x1="154.80" y1="2163.55" x2="161.80" y2="2163.55" stroke="#000" stroke-width="2.6" stroke-linecap="butt"/>
<line x1="972.00" y1="2163.55" x2="979.00" y2="2163.55" stroke="#000" stroke-width="2.6" stroke-linecap="butt"/>
<line x1="148.80" y1="2108.30" x2="161.80" y2="2108.30" stroke="#000" stroke-width="3" stroke-linecap="butt"/>
<line x1="966.00" y1="2108.30" x2="979.00" y2="2108.30" stroke="#000" stroke-width="3" stroke-linecap="butt"/>
<line x1="154.80" y1="2053.05" x2="161.80" y2="2053.05" stroke="#000" stroke-width="2.6" stroke-linecap="butt"/>
<line x1="972.00" y1="2053.05" x2="979.00" y2="2053.05" stroke="#000" stroke-width="2.6" stroke-linecap="butt"/>
<line x1="148.80" y1="1997.80" x2="161.80" y2="1997.80" stroke="#000" stroke-width="3" stroke-linecap="butt"/>
<line x1="966.00" y1="1997.80" x2="979.00" y2="1997.80" stroke="#000" stroke-width="3" stroke-linecap="butt"/>
<line x1="154.80" y1="1942.55" x2="161.80" y2="1942.55" stroke="#000" stroke-width="2.6" stroke-linecap="butt"/>
<line x1="972.00" y1="1942.55" x2="979.00" y2="1942.55" stroke="#000" stroke-width="2.6" stroke-linecap="butt"/>
<line x1="148.80" y1="1887.30" x2="161.80" y2="1887.30" stroke="#000" stroke-width="3" stroke-linecap="butt"/>
<line x1="966.00" y1="1887.30" x2="979.00" y2="1887.30" stroke="#000" stroke-width="3" stroke-linecap="butt"/>
<line x1="154.80" y1="1832.05" x2="161.80" y2="1832.05" stroke="#000" stroke-width="2.6" stroke-linecap="butt"/>
<line x1="972.00" y1="1832.05" x2="979.00" y2="1832.05" stroke="#000" stroke-width="2.6" stroke-linecap="butt"/>
<line x1="148.80" y1="1776.80" x2="161.80" y2="1776.80" stroke="#000" stroke-width="3" stroke-linecap="butt"/>
<line x1="966.00" y1="1776.80" x2="979.00" y2="1776.80" stroke="#000" stroke-width="3" stroke-linecap="butt"/>
<line x1="154.80" y1="1721.55" x2="161.80" y2="1721.55" stroke="#000" stroke-width="2.6" stroke-linecap="butt"/>
<line x1="972.00" y1="1721.55" x2="979.00" y2="1721.55" stroke="#000" stroke-width="2.6" stroke-linecap="butt"/>
<line x1="148.80" y1="1666.30" x2="161.80" y2="1666.30" stroke="#000" stroke-width="3" stroke-linecap="butt"/>
<line x1="966.00" y1="1666.30" x2="979.00" y2="1666.30" stroke="#000" stroke-width="3" stroke-linecap="butt"/>
<rect x="161.80" y="1666.30" width="817.20" height="607.40" fill="none" stroke="#000" stroke-width="3.5"/>
<text transform="translate(67.24,2227.13) scale(1.0800,1)" font-size="30.60" fill="#111"><tspan font-family="Liberation Sans" font-weight="bold" font-style="normal">1600</tspan></text>
<text transform="translate(67.24,2116.63) scale(1.0800,1)" font-size="30.60" fill="#111"><tspan font-family="Liberation Sans" font-weight="bold" font-style="normal">1800</tspan></text>
<text transform="translate(67.24,2006.13) scale(1.0800,1)" font-size="30.60" fill="#111"><tspan font-family="Liberation Sans" font-weight="bold" font-style="normal">2000</tspan></text>
<text transform="translate(67.24,1895.63) scale(1.0800,1)" font-size="30.60" fill="#111"><tspan font-family="Liberation Sans" font-weight="bold" font-style="normal">2200</tspan></text>
<text transform="translate(67.24,1785.13) scale(1.0800,1)" font-size="30.60" fill="#111"><tspan font-family="Liberation Sans" font-weight="bold" font-style="normal">2400</tspan></text>
<text transform="translate(67.24,1674.63) scale(1.0800,1)" font-size="30.60" fill="#111"><tspan font-family="Liberation Sans" font-weight="bold" font-style="normal">2600</tspan></text>
<text transform="translate(176.69,2320.20) scale(1.0700,1)" font-size="30.80" fill="#111" font-family="Liberation Sans" font-weight="bold">1E-4</text>
<text transform="translate(507.19,2320.20) scale(1.0700,1)" font-size="30.80" fill="#111" font-family="Liberation Sans" font-weight="bold">2E-4</text>
<text transform="translate(700.52,2320.20) scale(1.0700,1)" font-size="30.80" fill="#111" font-family="Liberation Sans" font-weight="bold">3E-4</text>
<text transform="translate(837.70,2320.20) scale(1.0700,1)" font-size="30.80" fill="#111" font-family="Liberation Sans" font-weight="bold">4E-4</text>
<text transform="translate(944.09,2320.20) scale(1.0700,1)" font-size="30.80" fill="#111" font-family="Liberation Sans" font-weight="bold">5E-4</text>
<text transform="translate(429.00,2376.80) scale(1.0580,1)" font-size="34.50" fill="#111"><tspan font-family="Liberation Sans" font-weight="bold" font-style="normal">Concentration (%)</tspan></text>
<text transform="translate(32.80,1950.70) rotate(-90) translate(-143.29,8.71) scale(1.0107,1)" font-size="36.20" fill="#111"><tspan font-family="Liberation Serif" font-weight="normal" font-style="normal">Δ </tspan><tspan font-family="Liberation Serif" font-weight="bold" font-style="italic">I</tspan><tspan font-family="Liberation Serif" font-weight="bold" font-style="normal"> (photon count)</tspan></text>
<rect x="198.40" y="1706.10" width="11.8" height="11.8" fill="#000"/>
<text transform="translate(241.68,1720.90) scale(1.0720,1)" font-size="29.50" fill="#111"><tspan font-family="Liberation Sans" font-weight="bold" font-style="normal">POD 0.0003 mg/ml</tspan></text>
<line x1="210.80" y1="1755.50" x2="210.80" y2="2262.00" stroke="#888" stroke-width="2.3" stroke-linecap="butt"/>
<line x1="649.80" y1="1757.50" x2="649.80" y2="1880.50" stroke="#888" stroke-width="2.3" stroke-linecap="butt"/>
<line x1="218.00" y1="1792.40" x2="642.00" y2="1792.40" stroke="#888" stroke-width="2.5" stroke-linecap="butt"/>
<path d="M211.80,1792.40 L222.30,1787.65 L222.30,1797.15 Z" fill="#1a1a1a"/>
<path d="M648.80,1792.40 L638.30,1797.15 L638.30,1787.65 Z" fill="#1a1a1a"/>
<text transform="translate(299.40,1829.10) scale(1.1001,1)" font-size="24.40" fill="#3a3a3a"><tspan font-family="Liberation Sans" font-weight="bold" font-style="normal">Linear range</tspan></text>
<path d="M212.00,2191.23 L215.60,2185.77 L219.20,2180.33 L222.79,2174.92 L226.39,2169.54 L229.99,2164.18 L233.59,2158.84 L237.19,2153.54 L240.78,2148.27 L244.38,2143.02 L247.98,2137.82 L251.58,2132.64 L255.18,2127.50 L258.77,2122.40 L262.37,2117.34 L265.97,2112.31 L269.57,2107.33 L273.17,2102.39 L276.76,2097.49 L280.36,2092.64 L283.96,2087.83 L287.56,2083.07 L291.16,2078.36 L294.75,2073.70 L298.35,2069.09 L301.95,2064.53 L305.55,2060.03 L309.15,2055.57 L312.74,2051.17 L316.34,2046.82 L319.94,2042.52 L323.54,2038.28 L327.14,2034.08 L330.73,2029.93 L334.33,2025.83 L337.93,2021.78 L341.53,2017.78 L345.13,2013.83 L348.72,2009.93 L352.32,2006.07 L355.92,2002.26 L359.52,1998.50 L363.12,1994.79 L366.71,1991.12 L370.31,1987.50 L373.91,1983.92 L377.51,1980.39 L381.11,1976.91 L384.70,1973.47 L388.30,1970.07 L391.90,1966.72 L395.50,1963.41 L399.10,1960.15 L402.69,1956.93 L406.29,1953.75 L409.89,1950.61 L413.49,1947.52 L417.09,1944.46 L420.68,1941.45 L424.28,1938.48 L427.88,1935.55 L431.48,1932.66 L435.08,1929.81 L438.67,1927.00 L442.27,1924.23 L445.87,1921.49 L449.47,1918.80 L453.07,1916.14 L456.66,1913.53 L460.26,1910.94 L463.86,1908.40 L467.46,1905.89 L471.06,1903.42 L474.65,1900.99 L478.25,1898.59 L481.85,1896.23 L485.45,1893.90 L489.05,1891.61 L492.64,1889.36 L496.24,1887.14 L499.84,1884.95 L503.44,1882.80 L507.04,1880.69 L510.63,1878.60 L514.23,1876.55 L517.83,1874.54 L521.43,1872.56 L525.03,1870.61 L528.62,1868.69 L532.22,1866.81 L535.82,1864.96 L539.42,1863.14 L543.02,1861.36 L546.61,1859.60 L550.21,1857.88 L553.81,1856.19 L557.41,1854.53 L561.01,1852.90 L564.60,1851.30 L568.20,1849.73 L571.80,1848.19 L575.40,1846.68 L578.99,1845.20 L582.59,1843.75 L586.19,1842.33 L589.79,1840.94 L593.39,1839.58 L596.98,1838.24 L600.58,1836.94 L604.18,1835.66 L607.78,1834.41 L611.38,1833.19 L614.97,1831.99 L618.57,1830.82 L622.17,1829.68 L625.77,1828.57 L629.37,1827.48 L632.96,1826.42 L636.56,1825.38 L640.16,1824.37 L643.76,1823.39 L647.36,1822.43 L650.95,1821.49 L654.55,1820.58 L658.15,1819.70 L661.75,1818.84 L665.35,1818.00 L668.94,1817.19 L672.54,1816.40 L676.14,1815.63 L679.74,1814.89 L683.34,1814.17 L686.93,1813.48 L690.53,1812.80 L694.13,1812.15 L697.73,1811.52 L701.33,1810.91 L704.92,1810.32 L708.52,1809.76 L712.12,1809.21 L715.72,1808.69 L719.32,1808.19 L722.91,1807.70 L726.51,1807.24 L730.11,1806.80 L733.71,1806.38 L737.31,1805.97 L740.90,1805.59 L744.50,1805.22 L748.10,1804.88 L751.70,1804.55 L755.30,1804.24 L758.89,1803.95 L762.49,1803.67 L766.09,1803.42 L769.69,1803.18 L773.29,1802.96 L776.88,1802.75 L780.48,1802.56 L784.08,1802.39 L787.68,1802.24 L791.28,1802.10 L794.87,1801.97 L798.47,1801.86 L802.07,1801.77 L805.67,1801.69 L809.27,1801.63 L812.86,1801.58 L816.46,1801.55 L820.06,1801.53 L823.66,1801.52 L827.26,1801.53 L830.85,1801.55 L834.45,1801.58 L838.05,1801.63 L841.65,1801.69 L845.25,1801.76 L848.84,1801.84 L852.44,1801.94 L856.04,1802.05 L859.64,1802.17 L863.24,1802.30 L866.83,1802.44 L870.43,1802.59 L874.03,1802.76 L877.63,1802.93 L881.23,1803.12 L884.82,1803.31 L888.42,1803.51 L892.02,1803.73 L895.62,1803.95 L899.22,1804.18 L902.81,1804.42 L906.41,1804.67 L910.01,1804.93 L913.61,1805.19 L917.21,1805.46 L920.80,1805.74 L924.40,1806.03 L928.00,1806.33" fill="none" stroke="#000" stroke-width="2.8" stroke-linejoin="round" stroke-linecap="butt"/>
<rect x="206.50" y="2185.30" width="11" height="11" fill="#000"/>
<rect x="399.90" y="1947.80" width="11" height="11" fill="#000"/>
<rect x="536.60" y="1863.80" width="11" height="11" fill="#000"/>
<rect x="643.25" y="1806.10" width="11" height="11" fill="#000"/>
<rect x="729.80" y="1803.50" width="11" height="11" fill="#000"/>
<rect x="803.25" y="1795.75" width="11" height="11" fill="#000"/>
<rect x="867.30" y="1800.75" width="11" height="11" fill="#000"/>
<rect x="922.60" y="1798.25" width="11" height="11" fill="#000"/>
<line x1="618.20" y1="2180.20" x2="618.20" y2="2186.20" stroke="#000" stroke-width="1.8" stroke-linecap="butt"/>
<line x1="618.20" y1="1930.50" x2="618.20" y2="1936.50" stroke="#000" stroke-width="1.8" stroke-linecap="butt"/>
<line x1="650.58" y1="2180.20" x2="650.58" y2="2183.70" stroke="#000" stroke-width="1.8" stroke-linecap="butt"/>
<line x1="650.58" y1="1930.50" x2="650.58" y2="1934.00" stroke="#000" stroke-width="1.8" stroke-linecap="butt"/>
<line x1="679.87" y1="2180.20" x2="679.87" y2="2183.70" stroke="#000" stroke-width="1.8" stroke-linecap="butt"/>
<line x1="679.87" y1="1930.50" x2="679.87" y2="1934.00" stroke="#000" stroke-width="1.8" stroke-linecap="butt"/>
<line x1="706.61" y1="2180.20" x2="706.61" y2="2183.70" stroke="#000" stroke-width="1.8" stroke-linecap="butt"/>
<line x1="706.61" y1="1930.50" x2="706.61" y2="1934.00" stroke="#000" stroke-width="1.8" stroke-linecap="butt"/>
<line x1="731.20" y1="2180.20" x2="731.20" y2="2183.70" stroke="#000" stroke-width="1.8" stroke-linecap="butt"/>
<line x1="731.20" y1="1930.50" x2="731.20" y2="1934.00" stroke="#000" stroke-width="1.8" stroke-linecap="butt"/>
<line x1="753.98" y1="2180.20" x2="753.98" y2="2183.70" stroke="#000" stroke-width="1.8" stroke-linecap="butt"/>
<line x1="753.98" y1="1930.50" x2="753.98" y2="1934.00" stroke="#000" stroke-width="1.8" stroke-linecap="butt"/>
<line x1="775.18" y1="2180.20" x2="775.18" y2="2183.70" stroke="#000" stroke-width="1.8" stroke-linecap="butt"/>
<line x1="775.18" y1="1930.50" x2="775.18" y2="1934.00" stroke="#000" stroke-width="1.8" stroke-linecap="butt"/>
<line x1="795.01" y1="2180.20" x2="795.01" y2="2183.70" stroke="#000" stroke-width="1.8" stroke-linecap="butt"/>
<line x1="795.01" y1="1930.50" x2="795.01" y2="1934.00" stroke="#000" stroke-width="1.8" stroke-linecap="butt"/>
<line x1="813.64" y1="2180.20" x2="813.64" y2="2183.70" stroke="#000" stroke-width="1.8" stroke-linecap="butt"/>
<line x1="813.64" y1="1930.50" x2="813.64" y2="1934.00" stroke="#000" stroke-width="1.8" stroke-linecap="butt"/>
<line x1="831.21" y1="2180.20" x2="831.21" y2="2186.20" stroke="#000" stroke-width="1.8" stroke-linecap="butt"/>
<line x1="831.21" y1="1930.50" x2="831.21" y2="1936.50" stroke="#000" stroke-width="1.8" stroke-linecap="butt"/>
<line x1="847.82" y1="2180.20" x2="847.82" y2="2183.70" stroke="#000" stroke-width="1.8" stroke-linecap="butt"/>
<line x1="847.82" y1="1930.50" x2="847.82" y2="1934.00" stroke="#000" stroke-width="1.8" stroke-linecap="butt"/>
<line x1="863.59" y1="2180.20" x2="863.59" y2="2183.70" stroke="#000" stroke-width="1.8" stroke-linecap="butt"/>
<line x1="863.59" y1="1930.50" x2="863.59" y2="1934.00" stroke="#000" stroke-width="1.8" stroke-linecap="butt"/>
<line x1="878.58" y1="2180.20" x2="878.58" y2="2183.70" stroke="#000" stroke-width="1.8" stroke-linecap="butt"/>
<line x1="878.58" y1="1930.50" x2="878.58" y2="1934.00" stroke="#000" stroke-width="1.8" stroke-linecap="butt"/>
<line x1="892.88" y1="2180.20" x2="892.88" y2="2183.70" stroke="#000" stroke-width="1.8" stroke-linecap="butt"/>
<line x1="892.88" y1="1930.50" x2="892.88" y2="1934.00" stroke="#000" stroke-width="1.8" stroke-linecap="butt"/>
<line x1="906.54" y1="2180.20" x2="906.54" y2="2183.70" stroke="#000" stroke-width="1.8" stroke-linecap="butt"/>
<line x1="906.54" y1="1930.50" x2="906.54" y2="1934.00" stroke="#000" stroke-width="1.8" stroke-linecap="butt"/>
<line x1="919.62" y1="2180.20" x2="919.62" y2="2183.70" stroke="#000" stroke-width="1.8" stroke-linecap="butt"/>
<line x1="919.62" y1="1930.50" x2="919.62" y2="1934.00" stroke="#000" stroke-width="1.8" stroke-linecap="butt"/>
<line x1="583.00" y1="2179.97" x2="586.50" y2="2179.97" stroke="#000" stroke-width="1.8" stroke-linecap="butt"/>
<line x1="919.50" y1="2179.97" x2="923.00" y2="2179.97" stroke="#000" stroke-width="1.8" stroke-linecap="butt"/>
<line x1="580.50" y1="2165.30" x2="586.50" y2="2165.30" stroke="#000" stroke-width="1.8" stroke-linecap="butt"/>
<line x1="917.00" y1="2165.30" x2="923.00" y2="2165.30" stroke="#000" stroke-width="1.8" stroke-linecap="butt"/>
<line x1="583.00" y1="2150.62" x2="586.50" y2="2150.62" stroke="#000" stroke-width="1.8" stroke-linecap="butt"/>
<line x1="919.50" y1="2150.62" x2="923.00" y2="2150.62" stroke="#000" stroke-width="1.8" stroke-linecap="butt"/>
<line x1="580.50" y1="2135.95" x2="586.50" y2="2135.95" stroke="#000" stroke-width="1.8" stroke-linecap="butt"/>
<line x1="917.00" y1="2135.95" x2="923.00" y2="2135.95" stroke="#000" stroke-width="1.8" stroke-linecap="butt"/>
<line x1="583.00" y1="2121.28" x2="586.50" y2="2121.28" stroke="#000" stroke-width="1.8" stroke-linecap="butt"/>
<line x1="919.50" y1="2121.28" x2="923.00" y2="2121.28" stroke="#000" stroke-width="1.8" stroke-linecap="butt"/>
<line x1="580.50" y1="2106.60" x2="586.50" y2="2106.60" stroke="#000" stroke-width="1.8" stroke-linecap="butt"/>
<line x1="917.00" y1="2106.60" x2="923.00" y2="2106.60" stroke="#000" stroke-width="1.8" stroke-linecap="butt"/>
<line x1="583.00" y1="2091.93" x2="586.50" y2="2091.93" stroke="#000" stroke-width="1.8" stroke-linecap="butt"/>
<line x1="919.50" y1="2091.93" x2="923.00" y2="2091.93" stroke="#000" stroke-width="1.8" stroke-linecap="butt"/>
<line x1="580.50" y1="2077.25" x2="586.50" y2="2077.25" stroke="#000" stroke-width="1.8" stroke-linecap="butt"/>
<line x1="917.00" y1="2077.25" x2="923.00" y2="2077.25" stroke="#000" stroke-width="1.8" stroke-linecap="butt"/>
<line x1="583.00" y1="2062.57" x2="586.50" y2="2062.57" stroke="#000" stroke-width="1.8" stroke-linecap="butt"/>
<line x1="919.50" y1="2062.57" x2="923.00" y2="2062.57" stroke="#000" stroke-width="1.8" stroke-linecap="butt"/>
<line x1="580.50" y1="2047.90" x2="586.50" y2="2047.90" stroke="#000" stroke-width="1.8" stroke-linecap="butt"/>
<line x1="917.00" y1="2047.90" x2="923.00" y2="2047.90" stroke="#000" stroke-width="1.8" stroke-linecap="butt"/>
<line x1="583.00" y1="2033.22" x2="586.50" y2="2033.22" stroke="#000" stroke-width="1.8" stroke-linecap="butt"/>
<line x1="919.50" y1="2033.22" x2="923.00" y2="2033.22" stroke="#000" stroke-width="1.8" stroke-linecap="butt"/>
<line x1="580.50" y1="2018.55" x2="586.50" y2="2018.55" stroke="#000" stroke-width="1.8" stroke-linecap="butt"/>
<line x1="917.00" y1="2018.55" x2="923.00" y2="2018.55" stroke="#000" stroke-width="1.8" stroke-linecap="butt"/>
<line x1="583.00" y1="2003.88" x2="586.50" y2="2003.88" stroke="#000" stroke-width="1.8" stroke-linecap="butt"/>
<line x1="919.50" y1="2003.88" x2="923.00" y2="2003.88" stroke="#000" stroke-width="1.8" stroke-linecap="butt"/>
<line x1="580.50" y1="1989.20" x2="586.50" y2="1989.20" stroke="#000" stroke-width="1.8" stroke-linecap="butt"/>
<line x1="917.00" y1="1989.20" x2="923.00" y2="1989.20" stroke="#000" stroke-width="1.8" stroke-linecap="butt"/>
<line x1="583.00" y1="1974.53" x2="586.50" y2="1974.53" stroke="#000" stroke-width="1.8" stroke-linecap="butt"/>
<line x1="919.50" y1="1974.53" x2="923.00" y2="1974.53" stroke="#000" stroke-width="1.8" stroke-linecap="butt"/>
<line x1="580.50" y1="1959.85" x2="586.50" y2="1959.85" stroke="#000" stroke-width="1.8" stroke-linecap="butt"/>
<line x1="917.00" y1="1959.85" x2="923.00" y2="1959.85" stroke="#000" stroke-width="1.8" stroke-linecap="butt"/>
<line x1="583.00" y1="1945.17" x2="586.50" y2="1945.17" stroke="#000" stroke-width="1.8" stroke-linecap="butt"/>
<line x1="919.50" y1="1945.17" x2="923.00" y2="1945.17" stroke="#000" stroke-width="1.8" stroke-linecap="butt"/>
<line x1="580.50" y1="1930.50" x2="586.50" y2="1930.50" stroke="#000" stroke-width="1.8" stroke-linecap="butt"/>
<line x1="917.00" y1="1930.50" x2="923.00" y2="1930.50" stroke="#000" stroke-width="1.8" stroke-linecap="butt"/>
<rect x="586.50" y="1930.50" width="336.50" height="249.70" fill="none" stroke="#000" stroke-width="2.2"/>
<text transform="translate(520.96,2171.71) scale(1.1000,1)" font-size="23.00" fill="#1a1a1a"><tspan font-family="Liberation Sans" font-weight="bold" font-style="normal">1600</tspan></text>
<text transform="translate(520.96,2142.36) scale(1.1000,1)" font-size="23.00" fill="#1a1a1a"><tspan font-family="Liberation Sans" font-weight="bold" font-style="normal">1700</tspan></text>
<text transform="translate(520.96,2113.01) scale(1.1000,1)" font-size="23.00" fill="#1a1a1a"><tspan font-family="Liberation Sans" font-weight="bold" font-style="normal">1800</tspan></text>
<text transform="translate(520.96,2083.66) scale(1.1000,1)" font-size="23.00" fill="#1a1a1a"><tspan font-family="Liberation Sans" font-weight="bold" font-style="normal">1900</tspan></text>
<text transform="translate(520.96,2054.31) scale(1.1000,1)" font-size="23.00" fill="#1a1a1a"><tspan font-family="Liberation Sans" font-weight="bold" font-style="normal">2000</tspan></text>
<text transform="translate(520.96,2024.96) scale(1.1000,1)" font-size="23.00" fill="#1a1a1a"><tspan font-family="Liberation Sans" font-weight="bold" font-style="normal">2100</tspan></text>
<text transform="translate(520.96,1995.61) scale(1.1000,1)" font-size="23.00" fill="#1a1a1a"><tspan font-family="Liberation Sans" font-weight="bold" font-style="normal">2200</tspan></text>
<text transform="translate(520.96,1966.26) scale(1.1000,1)" font-size="23.00" fill="#1a1a1a"><tspan font-family="Liberation Sans" font-weight="bold" font-style="normal">2300</tspan></text>
<text transform="translate(520.96,1936.91) scale(1.1000,1)" font-size="23.00" fill="#1a1a1a"><tspan font-family="Liberation Sans" font-weight="bold" font-style="normal">2400</tspan></text>
<text transform="translate(591.81,2208.60) scale(1.0200,1)" font-size="24.50" fill="#1a1a1a" font-family="Liberation Sans" font-weight="bold">1E-4</text>
<text transform="translate(804.82,2208.60) scale(1.0200,1)" font-size="24.50" fill="#1a1a1a" font-family="Liberation Sans" font-weight="bold">2E-4</text>
<text transform="translate(643.34,2240.50) scale(1.1003,1)" font-size="23.50" fill="#1a1a1a"><tspan font-family="Liberation Sans" font-weight="bold" font-style="normal">Concentration (%)</tspan></text>
<text transform="translate(498.00,2052.80) rotate(-90) translate(-101.89,6.01) scale(1.0406,1)" font-size="25.00" fill="#1a1a1a"><tspan font-family="Liberation Serif" font-weight="normal" font-style="normal">Δ </tspan><tspan font-family="Liberation Serif" font-weight="bold" font-style="italic">I</tspan><tspan font-family="Liberation Serif" font-weight="bold" font-style="normal"> (photon count)</tspan></text>
<line x1="618.50" y1="2137.00" x2="899.60" y2="1935.60" stroke="#333" stroke-width="1.9" stroke-linecap="butt"/>
<line x1="618.20" y1="2143.00" x2="618.20" y2="2159.40" stroke="#111" stroke-width="2" stroke-linecap="butt"/>
<line x1="616.30" y1="2143.00" x2="620.10" y2="2143.00" stroke="#111" stroke-width="2" stroke-linecap="butt"/>
<line x1="616.30" y1="2159.40" x2="620.10" y2="2159.40" stroke="#111" stroke-width="2" stroke-linecap="butt"/>
<rect x="614.20" y="2147.20" width="8" height="8" fill="#111"/>
<line x1="743.10" y1="2015.70" x2="743.10" y2="2032.10" stroke="#111" stroke-width="2" stroke-linecap="butt"/>
<line x1="741.20" y1="2015.70" x2="745.00" y2="2015.70" stroke="#111" stroke-width="2" stroke-linecap="butt"/>
<line x1="741.20" y1="2032.10" x2="745.00" y2="2032.10" stroke="#111" stroke-width="2" stroke-linecap="butt"/>
<rect x="739.10" y="2019.90" width="8" height="8" fill="#111"/>
<line x1="831.20" y1="1972.10" x2="831.20" y2="1988.50" stroke="#111" stroke-width="2" stroke-linecap="butt"/>
<line x1="829.30" y1="1972.10" x2="833.10" y2="1972.10" stroke="#111" stroke-width="2" stroke-linecap="butt"/>
<line x1="829.30" y1="1988.50" x2="833.10" y2="1988.50" stroke="#111" stroke-width="2" stroke-linecap="butt"/>
<rect x="827.20" y="1976.30" width="8" height="8" fill="#111"/>
<line x1="899.40" y1="1941.20" x2="899.40" y2="1957.60" stroke="#111" stroke-width="2" stroke-linecap="butt"/>
<line x1="897.50" y1="1941.20" x2="901.30" y2="1941.20" stroke="#111" stroke-width="2" stroke-linecap="butt"/>
<line x1="897.50" y1="1957.60" x2="901.30" y2="1957.60" stroke="#111" stroke-width="2" stroke-linecap="butt"/>
<rect x="895.40" y="1945.40" width="8" height="8" fill="#111"/>
<text transform="translate(749.42,2080.00) scale(1.0864,1)" font-size="23.00" fill="#222"><tspan font-family="Liberation Sans" font-weight="bold" font-style="normal">slope:</tspan></text>
<text transform="translate(828.53,2080.80) scale(1.1296,1)" font-size="22.00" fill="#222"><tspan font-family="Liberation Sans" font-weight="bold" font-style="normal">1700</tspan></text>
<text transform="translate(751.63,2105.00) scale(1.0352,1)" font-size="22.67" fill="#222"><tspan font-family="Liberation Sans" font-weight="bold" font-style="normal">R</tspan></text>
<text transform="translate(770.02,2096.20) scale(1.1156,1)" font-size="14.89" fill="#222"><tspan font-family="Liberation Sans" font-weight="bold" font-style="normal">2</tspan></text>
<text transform="translate(778.25,2105.00) scale(1.3763,1)" font-size="23.77" fill="#222"><tspan font-family="Liberation Sans" font-weight="bold" font-style="normal">:</tspan></text>
<text transform="translate(794.84,2105.18) scale(1.0934,1)" font-size="22.17" fill="#222"><tspan font-family="Liberation Sans" font-weight="bold" font-style="normal">0.94</tspan></text>
<line x1="790.00" y1="2058.40" x2="771.00" y2="2036.20" stroke="#222" stroke-width="1.8" stroke-linecap="butt"/>
<path d="M767.60,2032.50 L774.91,2036.75 L770.75,2040.35 Z" fill="#111"/>
<text transform="translate(480.35,813.79) scale(1.0180,1)" font-size="59.22" fill="#000"><tspan font-family="Liberation Serif" font-weight="normal" font-style="normal">(</tspan><tspan font-family="Liberation Serif" font-weight="bold" font-style="normal">a</tspan><tspan font-family="Liberation Serif" font-weight="normal" font-style="normal">)</tspan></text>
<text transform="translate(478.85,1627.19) scale(1.0182,1)" font-size="59.22" fill="#000"><tspan font-family="Liberation Serif" font-weight="normal" font-style="normal">(</tspan><tspan font-family="Liberation Serif" font-weight="bold" font-style="normal">b</tspan><tspan font-family="Liberation Serif" font-weight="normal" font-style="normal">)</tspan></text>
<text transform="translate(481.81,2464.09) scale(1.0326,1)" font-size="59.22" fill="#000"><tspan font-family="Liberation Serif" font-weight="normal" font-style="normal">(</tspan><tspan font-family="Liberation Serif" font-weight="bold" font-style="normal">c</tspan><tspan font-family="Liberation Serif" font-weight="normal" font-style="normal">)</tspan></text>
</svg></div>
</body></html>
